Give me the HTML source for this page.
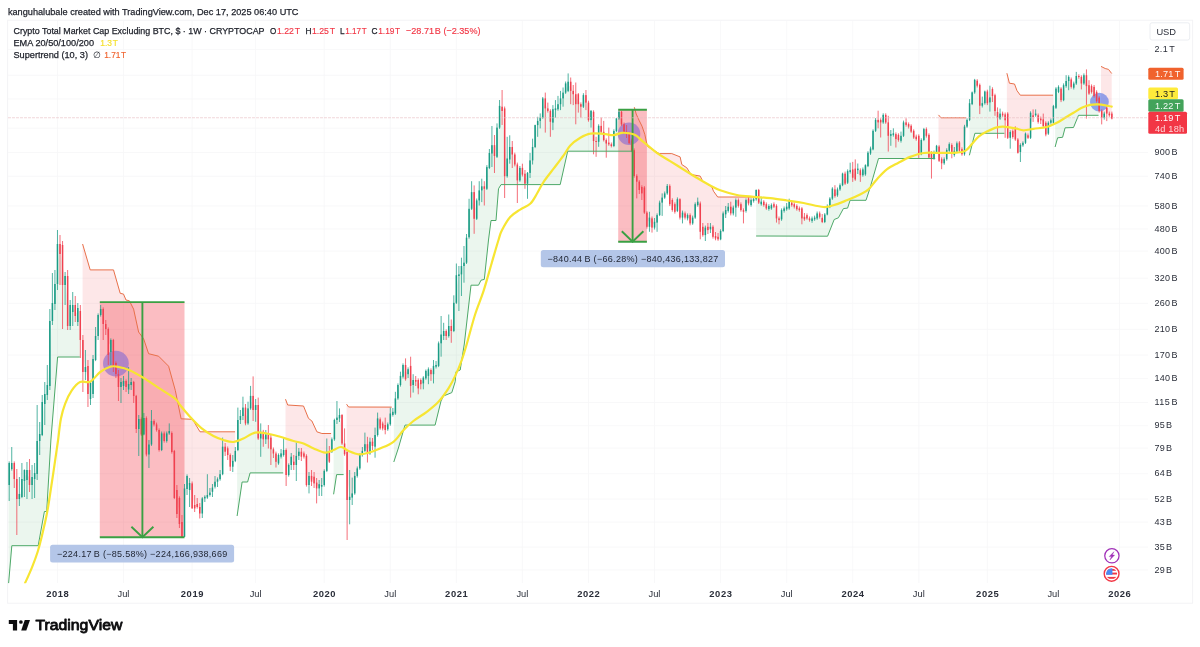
<!DOCTYPE html><html><head><meta charset="utf-8"><title>chart</title>
<style>html,body{margin:0;padding:0;background:#fff;}body{width:1200px;height:647px;overflow:hidden;font-family:"Liberation Sans",sans-serif;}svg{display:block;will-change:transform;}text{font-family:"Liberation Sans",sans-serif;}</style></head><body>
<svg width="1200" height="647" viewBox="0 0 1200 647">
<rect width="1200" height="647" fill="#ffffff"/>
<defs><clipPath id="plot"><rect x="8" y="20.5" width="1140" height="562.8"/></clipPath></defs>
<rect x="7.6" y="20.2" width="1185" height="583" fill="none" stroke="#f3f3f5" stroke-width="1"/>
<line x1="57.5" y1="20.5" x2="57.5" y2="583" stroke="#f6f6f8" stroke-width="0.8"/>
<line x1="123.5" y1="20.5" x2="123.5" y2="583" stroke="#f6f6f8" stroke-width="0.8"/>
<line x1="192.1" y1="20.5" x2="192.1" y2="583" stroke="#f6f6f8" stroke-width="0.8"/>
<line x1="255.6" y1="20.5" x2="255.6" y2="583" stroke="#f6f6f8" stroke-width="0.8"/>
<line x1="324.2" y1="20.5" x2="324.2" y2="583" stroke="#f6f6f8" stroke-width="0.8"/>
<line x1="390.3" y1="20.5" x2="390.3" y2="583" stroke="#f6f6f8" stroke-width="0.8"/>
<line x1="456.4" y1="20.5" x2="456.4" y2="583" stroke="#f6f6f8" stroke-width="0.8"/>
<line x1="522.4" y1="20.5" x2="522.4" y2="583" stroke="#f6f6f8" stroke-width="0.8"/>
<line x1="588.5" y1="20.5" x2="588.5" y2="583" stroke="#f6f6f8" stroke-width="0.8"/>
<line x1="654.5" y1="20.5" x2="654.5" y2="583" stroke="#f6f6f8" stroke-width="0.8"/>
<line x1="720.6" y1="20.5" x2="720.6" y2="583" stroke="#f6f6f8" stroke-width="0.8"/>
<line x1="786.7" y1="20.5" x2="786.7" y2="583" stroke="#f6f6f8" stroke-width="0.8"/>
<line x1="852.7" y1="20.5" x2="852.7" y2="583" stroke="#f6f6f8" stroke-width="0.8"/>
<line x1="918.8" y1="20.5" x2="918.8" y2="583" stroke="#f6f6f8" stroke-width="0.8"/>
<line x1="987.4" y1="20.5" x2="987.4" y2="583" stroke="#f6f6f8" stroke-width="0.8"/>
<line x1="1053.4" y1="20.5" x2="1053.4" y2="583" stroke="#f6f6f8" stroke-width="0.8"/>
<line x1="1119.5" y1="20.5" x2="1119.5" y2="583" stroke="#f6f6f8" stroke-width="0.8"/>
<line x1="8" y1="49.6" x2="1148" y2="49.6" stroke="#f6f6f8" stroke-width="0.8"/>
<line x1="8" y1="152.5" x2="1148" y2="152.5" stroke="#f6f6f8" stroke-width="0.8"/>
<line x1="8" y1="176.3" x2="1148" y2="176.3" stroke="#f6f6f8" stroke-width="0.8"/>
<line x1="8" y1="205.9" x2="1148" y2="205.9" stroke="#f6f6f8" stroke-width="0.8"/>
<line x1="8" y1="228.9" x2="1148" y2="228.9" stroke="#f6f6f8" stroke-width="0.8"/>
<line x1="8" y1="251.1" x2="1148" y2="251.1" stroke="#f6f6f8" stroke-width="0.8"/>
<line x1="8" y1="278.2" x2="1148" y2="278.2" stroke="#f6f6f8" stroke-width="0.8"/>
<line x1="8" y1="303.4" x2="1148" y2="303.4" stroke="#f6f6f8" stroke-width="0.8"/>
<line x1="8" y1="329.4" x2="1148" y2="329.4" stroke="#f6f6f8" stroke-width="0.8"/>
<line x1="8" y1="355.0" x2="1148" y2="355.0" stroke="#f6f6f8" stroke-width="0.8"/>
<line x1="8" y1="378.6" x2="1148" y2="378.6" stroke="#f6f6f8" stroke-width="0.8"/>
<line x1="8" y1="402.5" x2="1148" y2="402.5" stroke="#f6f6f8" stroke-width="0.8"/>
<line x1="8" y1="425.7" x2="1148" y2="425.7" stroke="#f6f6f8" stroke-width="0.8"/>
<line x1="8" y1="448.1" x2="1148" y2="448.1" stroke="#f6f6f8" stroke-width="0.8"/>
<line x1="8" y1="473.7" x2="1148" y2="473.7" stroke="#f6f6f8" stroke-width="0.8"/>
<line x1="8" y1="499.0" x2="1148" y2="499.0" stroke="#f6f6f8" stroke-width="0.8"/>
<line x1="8" y1="522.1" x2="1148" y2="522.1" stroke="#f6f6f8" stroke-width="0.8"/>
<line x1="8" y1="547.1" x2="1148" y2="547.1" stroke="#f6f6f8" stroke-width="0.8"/>
<line x1="8" y1="569.9" x2="1148" y2="569.9" stroke="#f6f6f8" stroke-width="0.8"/>
<line x1="8" y1="75.3" x2="1148" y2="75.3" stroke="#f6f6f8" stroke-width="0.8"/>
<line x1="8" y1="98.9" x2="1148" y2="98.9" stroke="#f6f6f8" stroke-width="0.8"/>
<line x1="8" y1="128.2" x2="1148" y2="128.2" stroke="#f6f6f8" stroke-width="0.8"/>
<g clip-path="url(#plot)">
<polygon points="8.6,583.3 11.8,545.7 38.2,545.7 44.4,511.5 46.7,511.5 50.9,440.0 57.6,357.0 79.8,357.0 79.8,323.3 77.8,315.0 75.3,310.5 72.7,308.5 70.2,315.5 67.6,301.0 65.1,280.5 62.6,265.0 60.0,249.0 57.5,264.0 54.9,294.0 52.4,312.0 49.9,353.5 47.3,390.0 44.8,399.0 42.2,418.5 39.7,437.5 37.1,457.5 34.6,476.0 32.1,481.0 29.5,477.5 27.0,475.0 24.4,475.5 21.9,488.0 19.4,496.5 16.8,489.0 14.3,471.0 11.7,466.0 9.2,474.0 8.6,475.9" fill="#2e9e4f" fill-opacity="0.095"/>
<polygon points="237.1,516.0 242.1,482.0 247.6,482.0 250.1,472.9 283.2,472.9 283.2,452.9 281.1,455.0 278.5,459.2 276.0,457.6 273.4,451.4 270.9,443.5 268.4,436.8 265.8,436.8 263.3,435.6 260.7,435.1 258.2,421.8 255.6,407.5 253.1,402.9 250.6,402.1 248.0,415.9 245.5,415.5 242.9,411.8 240.4,418.0 237.9,435.0 237.1,441.3" fill="#2e9e4f" fill-opacity="0.095"/>
<polygon points="333.6,494.3 336.6,474.6 343.6,474.6 343.6,441.4 342.0,429.2 339.5,416.7 337.0,418.8 334.4,429.6 333.6,434.7" fill="#2e9e4f" fill-opacity="0.095"/>
<polygon points="393.8,462.0 398.4,448.0 405.0,425.1 435.1,425.1 441.0,401.0 443.5,396.0 451.8,392.6 455.2,381.7 456.0,371.7 460.2,370.0 464.3,344.0 471.0,285.2 478.5,285.2 481.0,280.2 484.3,279.4 488.5,240.0 491.0,220.5 496.0,220.5 498.5,188.8 501.0,184.6 560.2,184.6 567.7,151.2 632.0,151.2 632.0,148.0 631.7,145.8 629.1,138.2 626.6,132.7 624.0,128.1 621.5,118.0 619.0,115.1 616.4,124.7 613.9,138.5 611.3,145.2 608.8,143.4 606.3,141.8 603.7,135.9 601.2,128.9 598.6,133.9 596.1,141.4 593.6,126.4 591.0,115.5 588.5,111.3 585.9,98.8 583.4,100.9 580.9,105.5 578.3,99.2 575.8,99.2 573.2,92.6 570.7,86.3 568.2,86.3 565.6,88.0 563.1,95.5 560.5,101.3 558.0,106.7 555.5,109.2 552.9,115.9 550.4,116.3 547.8,109.7 545.3,103.4 542.7,108.0 540.2,119.2 537.7,123.0 535.1,136.1 532.6,153.7 530.0,166.7 527.5,178.3 525.0,178.7 522.4,171.2 519.9,174.2 517.3,172.4 514.8,159.5 512.3,150.8 509.7,153.2 507.2,167.3 504.6,142.3 502.1,108.8 499.6,116.8 497.0,142.2 494.5,150.6 491.9,149.3 489.4,160.5 486.9,177.9 484.3,187.6 481.8,188.4 479.2,195.4 476.7,209.6 474.1,205.4 471.6,200.4 469.1,223.0 466.5,250.2 464.0,264.4 461.4,270.2 458.9,275.2 456.4,289.0 453.8,316.9 451.3,328.5 448.7,331.0 446.2,333.5 443.7,333.5 441.1,338.9 438.6,354.6 436.0,365.9 433.5,370.0 431.0,372.1 428.4,372.5 425.9,374.6 423.3,380.5 420.8,382.1 418.3,384.2 415.7,380.9 413.2,382.5 410.6,375.9 408.1,371.7 405.5,372.1 403.0,370.9 400.5,380.4 397.9,391.7 395.4,405.9 393.8,410.6" fill="#2e9e4f" fill-opacity="0.095"/>
<polygon points="756.1,236.0 827.6,236.2 834.2,219.5 838.4,217.8 843.4,208.6 847.6,208.1 850.1,200.3 866.0,200.3 870.1,187.8 878.5,158.5 935.2,158.5 935.2,152.5 934.0,155.4 931.5,155.8 928.9,146.2 926.4,132.4 923.9,134.6 921.3,147.1 918.8,145.0 916.2,137.8 913.7,134.2 911.1,128.7 908.6,125.3 906.1,123.7 903.5,129.1 901.0,138.3 898.4,137.4 895.9,136.6 893.4,134.1 890.8,134.9 888.3,129.1 885.7,118.7 883.2,118.7 880.7,121.2 878.1,121.2 875.6,125.4 873.0,140.1 870.5,151.0 868.0,159.4 865.4,169.8 862.9,172.3 860.3,172.7 857.8,169.4 855.3,174.0 852.7,173.6 850.2,171.1 847.6,176.9 845.1,178.6 842.5,179.4 840.0,187.3 837.5,192.4 834.9,192.8 832.4,193.6 829.8,202.8 827.3,210.3 824.8,218.2 822.2,219.9 819.7,215.1 817.1,215.9 814.6,218.4 812.1,219.7 809.5,219.2 807.0,216.8 804.4,218.1 801.9,213.4 799.4,209.2 796.8,207.6 794.3,205.4 791.7,203.8 789.2,204.2 786.7,207.9 784.1,209.7 781.6,214.7 779.0,219.2 776.5,212.2 774.0,205.4 771.4,206.8 768.9,207.5 766.3,206.3 763.8,203.4 761.2,202.9 758.7,196.3 756.2,194.6 756.1,194.7" fill="#2e9e4f" fill-opacity="0.095"/>
<polygon points="969.4,155.3 974.9,133.3 1004.4,133.3 1004.4,116.5 1002.6,114.4 1000.1,116.1 997.5,114.9 995.0,103.2 992.5,92.5 989.9,99.9 987.4,97.3 984.8,97.3 982.3,104.5 979.7,95.3 977.2,83.2 974.7,86.2 972.1,98.2 969.6,111.6 969.4,112.4" fill="#2e9e4f" fill-opacity="0.095"/>
<polygon points="1055.1,147.0 1057.6,137.8 1062.6,137.3 1065.1,127.8 1073.5,127.5 1078.5,115.3 1098.5,115.3 1098.5,102.3 1096.6,96.5 1094.1,91.5 1091.5,89.0 1089.0,89.4 1086.5,80.7 1083.9,79.3 1081.4,80.2 1078.8,76.5 1076.3,79.8 1073.8,85.6 1071.2,83.2 1068.7,79.0 1066.1,83.5 1063.6,92.7 1061.0,94.4 1058.5,89.4 1056.0,98.2 1055.1,103.8" fill="#2e9e4f" fill-opacity="0.095"/>
<polygon points="82.6,244.0 90.2,269.9 113.5,269.9 120.2,293.3 123.5,294.1 126.0,300.0 129.4,300.8 133.6,309.1 138.6,332.0 143.6,338.7 148.6,353.7 158.6,356.2 168.6,366.2 175.3,390.4 181.1,418.8 192.5,419.3 200.0,431.8 235.1,431.8 235.1,456.6 232.8,463.8 230.2,460.9 227.7,451.6 225.2,449.2 222.6,460.4 220.1,476.7 217.5,480.4 215.0,484.2 212.5,489.7 209.9,493.8 207.4,496.3 204.8,497.6 202.3,505.9 199.8,510.2 197.2,505.5 194.7,506.7 192.1,495.9 189.6,486.5 187.0,482.5 184.5,512.6 182.0,529.5 179.4,511.0 176.9,502.0 174.3,474.5 171.8,442.5 169.3,432.2 166.7,437.2 164.2,437.2 161.6,441.7 159.1,440.0 156.6,427.2 154.0,422.8 151.5,432.8 148.9,449.5 146.4,436.2 143.9,426.2 141.3,426.8 138.8,424.0 136.2,412.5 133.7,389.0 131.2,383.5 128.6,386.8 126.1,384.0 123.5,383.5 121.0,384.5 118.5,380.5 115.9,368.5 113.4,353.5 110.8,346.0 108.3,342.0 105.7,326.5 103.2,316.5 100.7,312.0 98.1,325.5 95.6,348.0 93.0,376.5 90.5,391.0 88.0,380.0 85.4,369.5 82.9,356.0 82.6,352.6" fill="#f23645" fill-opacity="0.12"/>
<polygon points="285.5,399.2 287.7,405.0 303.5,406.0 308.5,418.4 311.9,421.0 316.9,431.8 321.9,433.5 331.1,433.5 331.1,448.8 329.3,456.4 326.8,461.3 324.2,477.9 321.7,485.9 319.2,486.3 316.6,485.5 314.1,480.0 311.5,478.8 309.0,480.4 306.5,470.4 303.9,455.0 301.4,454.2 298.8,453.8 296.3,460.4 293.8,463.4 291.2,460.9 288.7,470.0 286.1,462.5 285.5,460.0" fill="#f23645" fill-opacity="0.12"/>
<polygon points="346.6,404.2 348.6,407.0 391.7,407.1 391.7,415.9 390.3,418.9 387.8,426.8 385.2,427.5 382.7,426.0 380.1,423.9 377.6,426.7 375.1,440.9 372.5,443.9 370.0,447.5 367.4,448.8 364.9,447.5 362.4,452.9 359.8,461.7 357.3,472.1 354.7,484.6 352.2,495.5 349.7,498.4 347.1,476.0 346.6,470.5" fill="#f23645" fill-opacity="0.12"/>
<polygon points="634.3,107.2 636.2,114.0 639.0,120.2 642.0,126.2 644.8,134.3 646.2,141.0 647.6,146.5 659.3,153.6 671.8,153.6 680.1,156.9 681.8,164.5 686.8,167.8 691.0,174.5 700.2,176.1 702.7,181.1 706.8,183.6 711.9,187.0 713.5,191.2 717.7,197.0 755.0,197.0 755.0,197.1 753.6,200.1 751.1,202.6 748.5,200.9 746.0,205.5 743.5,210.9 740.9,207.1 738.4,203.0 735.8,203.8 733.3,210.5 730.8,210.1 728.2,208.8 725.7,212.2 723.1,222.2 720.6,235.2 718.1,238.1 715.5,237.2 713.0,231.8 710.4,228.1 707.9,228.4 705.4,231.3 702.8,230.9 700.3,217.6 697.7,203.4 695.2,210.9 692.6,220.5 690.1,219.2 687.6,216.8 685.0,215.5 682.5,215.1 679.9,208.4 677.4,205.1 674.9,208.0 672.3,205.0 669.8,195.1 667.2,189.7 664.7,195.5 662.2,200.1 659.6,208.8 657.1,218.8 654.5,224.7 652.0,223.0 649.5,222.2 646.9,219.7 644.4,200.1 641.8,190.2 639.3,185.8 636.8,178.8 634.3,163.6" fill="#f23645" fill-opacity="0.12"/>
<polygon points="938.5,114.9 941.0,117.8 966.0,117.8 966.0,130.3 964.5,140.4 962.0,151.6 959.4,146.7 956.9,147.4 954.3,152.9 951.8,148.8 949.3,147.4 946.7,154.6 944.2,161.2 941.6,161.2 939.1,153.7 938.5,152.6" fill="#f23645" fill-opacity="0.12"/>
<polygon points="1006.9,73.2 1009.4,83.2 1014.5,84.0 1017.0,90.7 1020.3,95.2 1053.1,95.2 1053.1,115.4 1050.9,121.5 1048.3,128.2 1045.8,128.7 1043.3,122.8 1040.7,119.4 1038.2,118.6 1035.6,114.4 1033.1,116.2 1030.6,125.3 1028.0,136.6 1025.5,138.2 1022.9,144.1 1020.4,148.5 1017.9,146.2 1015.3,133.7 1012.8,134.1 1010.2,134.9 1007.7,125.7 1006.9,123.1" fill="#f23645" fill-opacity="0.12"/>
<polygon points="1101.0,66.4 1105.2,68.5 1108.5,69.4 1111.7,73.5 1111.7,116.0 1109.3,114.4 1106.8,110.7 1104.2,115.7 1101.7,114.4 1101.0,111.7" fill="#f23645" fill-opacity="0.12"/>
<rect x="99.8" y="302.1" width="84.7" height="235.1" fill="#f23645" fill-opacity="0.33"/>
<rect x="618.2" y="109.8" width="28.7" height="132.0" fill="#f23645" fill-opacity="0.33"/>
<circle cx="115.9" cy="363.6" r="12.9" fill="#9575cd" fill-opacity="0.72"/>
<circle cx="629" cy="133.8" r="11.3" fill="#9575cd" fill-opacity="0.72"/>
<circle cx="1099.4" cy="102.1" r="9.4" fill="#5a78e6" fill-opacity="0.65"/>
<line x1="9.20" y1="461.4" x2="9.20" y2="501.0" stroke="#1a9c85" stroke-width="0.9" stroke-opacity="0.85"/>
<rect x="8.45" y="463.0" width="1.5" height="22.0" fill="#1a9c85"/>
<line x1="11.74" y1="447.0" x2="11.74" y2="470.6" stroke="#1a9c85" stroke-width="0.9" stroke-opacity="0.85"/>
<rect x="10.99" y="463.0" width="1.5" height="6.0" fill="#1a9c85"/>
<line x1="14.28" y1="461.4" x2="14.28" y2="488.0" stroke="#f0404f" stroke-width="0.9" stroke-opacity="0.85"/>
<rect x="13.53" y="463.0" width="1.5" height="16.0" fill="#f0404f"/>
<line x1="16.82" y1="469.0" x2="16.82" y2="535.0" stroke="#f0404f" stroke-width="0.9" stroke-opacity="0.85"/>
<rect x="16.07" y="479.0" width="1.5" height="20.0" fill="#f0404f"/>
<line x1="19.36" y1="477.0" x2="19.36" y2="506.0" stroke="#1a9c85" stroke-width="0.9" stroke-opacity="0.85"/>
<rect x="18.61" y="494.0" width="1.5" height="5.0" fill="#1a9c85"/>
<line x1="21.90" y1="463.0" x2="21.90" y2="498.1" stroke="#1a9c85" stroke-width="0.9" stroke-opacity="0.85"/>
<rect x="21.15" y="479.0" width="1.5" height="18.0" fill="#1a9c85"/>
<line x1="24.44" y1="469.4" x2="24.44" y2="497.0" stroke="#1a9c85" stroke-width="0.9" stroke-opacity="0.85"/>
<rect x="23.69" y="470.0" width="1.5" height="11.0" fill="#1a9c85"/>
<line x1="26.98" y1="462.0" x2="26.98" y2="499.0" stroke="#1a9c85" stroke-width="0.9" stroke-opacity="0.85"/>
<rect x="26.23" y="470.0" width="1.5" height="10.0" fill="#1a9c85"/>
<line x1="29.53" y1="459.0" x2="29.53" y2="492.0" stroke="#f0404f" stroke-width="0.9" stroke-opacity="0.85"/>
<rect x="28.78" y="470.0" width="1.5" height="15.0" fill="#f0404f"/>
<line x1="32.07" y1="465.0" x2="32.07" y2="499.0" stroke="#1a9c85" stroke-width="0.9" stroke-opacity="0.85"/>
<rect x="31.32" y="477.0" width="1.5" height="8.0" fill="#1a9c85"/>
<line x1="34.61" y1="463.0" x2="34.61" y2="498.0" stroke="#1a9c85" stroke-width="0.9" stroke-opacity="0.85"/>
<rect x="33.86" y="473.0" width="1.5" height="6.0" fill="#1a9c85"/>
<line x1="37.15" y1="405.0" x2="37.15" y2="480.0" stroke="#1a9c85" stroke-width="0.9" stroke-opacity="0.85"/>
<rect x="36.40" y="441.0" width="1.5" height="33.0" fill="#1a9c85"/>
<line x1="39.69" y1="422.0" x2="39.69" y2="455.0" stroke="#1a9c85" stroke-width="0.9" stroke-opacity="0.85"/>
<rect x="38.94" y="434.0" width="1.5" height="7.0" fill="#1a9c85"/>
<line x1="42.23" y1="395.0" x2="42.23" y2="436.1" stroke="#1a9c85" stroke-width="0.9" stroke-opacity="0.85"/>
<rect x="41.48" y="402.0" width="1.5" height="33.0" fill="#1a9c85"/>
<line x1="44.77" y1="382.0" x2="44.77" y2="425.0" stroke="#1a9c85" stroke-width="0.9" stroke-opacity="0.85"/>
<rect x="44.02" y="394.0" width="1.5" height="10.0" fill="#1a9c85"/>
<line x1="47.31" y1="365.0" x2="47.31" y2="400.0" stroke="#1a9c85" stroke-width="0.9" stroke-opacity="0.85"/>
<rect x="46.56" y="385.0" width="1.5" height="10.0" fill="#1a9c85"/>
<line x1="49.85" y1="309.0" x2="49.85" y2="390.0" stroke="#1a9c85" stroke-width="0.9" stroke-opacity="0.85"/>
<rect x="49.10" y="321.0" width="1.5" height="65.0" fill="#1a9c85"/>
<line x1="52.39" y1="273.0" x2="52.39" y2="325.0" stroke="#1a9c85" stroke-width="0.9" stroke-opacity="0.85"/>
<rect x="51.64" y="303.0" width="1.5" height="18.0" fill="#1a9c85"/>
<line x1="54.93" y1="270.0" x2="54.93" y2="310.0" stroke="#1a9c85" stroke-width="0.9" stroke-opacity="0.85"/>
<rect x="54.18" y="284.0" width="1.5" height="20.0" fill="#1a9c85"/>
<line x1="57.47" y1="230.0" x2="57.47" y2="290.0" stroke="#1a9c85" stroke-width="0.9" stroke-opacity="0.85"/>
<rect x="56.72" y="244.0" width="1.5" height="40.0" fill="#1a9c85"/>
<line x1="60.01" y1="235.0" x2="60.01" y2="285.0" stroke="#f0404f" stroke-width="0.9" stroke-opacity="0.85"/>
<rect x="59.26" y="244.0" width="1.5" height="10.0" fill="#f0404f"/>
<line x1="62.55" y1="241.0" x2="62.55" y2="329.0" stroke="#f0404f" stroke-width="0.9" stroke-opacity="0.85"/>
<rect x="61.80" y="245.0" width="1.5" height="40.0" fill="#f0404f"/>
<line x1="65.10" y1="272.0" x2="65.10" y2="305.0" stroke="#1a9c85" stroke-width="0.9" stroke-opacity="0.85"/>
<rect x="64.35" y="276.0" width="1.5" height="9.0" fill="#1a9c85"/>
<line x1="67.64" y1="270.0" x2="67.64" y2="330.0" stroke="#f0404f" stroke-width="0.9" stroke-opacity="0.85"/>
<rect x="66.89" y="276.0" width="1.5" height="50.0" fill="#f0404f"/>
<line x1="70.18" y1="300.0" x2="70.18" y2="330.0" stroke="#1a9c85" stroke-width="0.9" stroke-opacity="0.85"/>
<rect x="69.43" y="305.0" width="1.5" height="21.0" fill="#1a9c85"/>
<line x1="72.72" y1="292.0" x2="72.72" y2="326.0" stroke="#1a9c85" stroke-width="0.9" stroke-opacity="0.85"/>
<rect x="71.97" y="305.0" width="1.5" height="7.0" fill="#1a9c85"/>
<line x1="75.26" y1="296.0" x2="75.26" y2="322.0" stroke="#f0404f" stroke-width="0.9" stroke-opacity="0.85"/>
<rect x="74.51" y="305.0" width="1.5" height="11.0" fill="#f0404f"/>
<line x1="77.80" y1="303.0" x2="77.80" y2="326.0" stroke="#1a9c85" stroke-width="0.9" stroke-opacity="0.85"/>
<rect x="77.05" y="308.0" width="1.5" height="14.0" fill="#1a9c85"/>
<line x1="80.34" y1="305.0" x2="80.34" y2="358.0" stroke="#f0404f" stroke-width="0.9" stroke-opacity="0.85"/>
<rect x="79.59" y="311.0" width="1.5" height="29.0" fill="#f0404f"/>
<line x1="82.88" y1="335.0" x2="82.88" y2="392.0" stroke="#f0404f" stroke-width="0.9" stroke-opacity="0.85"/>
<rect x="82.13" y="340.0" width="1.5" height="32.0" fill="#f0404f"/>
<line x1="85.42" y1="350.0" x2="85.42" y2="380.0" stroke="#1a9c85" stroke-width="0.9" stroke-opacity="0.85"/>
<rect x="84.67" y="367.0" width="1.5" height="5.0" fill="#1a9c85"/>
<line x1="87.96" y1="360.0" x2="87.96" y2="407.0" stroke="#f0404f" stroke-width="0.9" stroke-opacity="0.85"/>
<rect x="87.21" y="366.0" width="1.5" height="28.0" fill="#f0404f"/>
<line x1="90.50" y1="381.4" x2="90.50" y2="405.0" stroke="#1a9c85" stroke-width="0.9" stroke-opacity="0.85"/>
<rect x="89.75" y="383.0" width="1.5" height="16.0" fill="#1a9c85"/>
<line x1="93.04" y1="355.0" x2="93.04" y2="398.0" stroke="#1a9c85" stroke-width="0.9" stroke-opacity="0.85"/>
<rect x="92.29" y="359.0" width="1.5" height="35.0" fill="#1a9c85"/>
<line x1="95.58" y1="327.0" x2="95.58" y2="361.1" stroke="#1a9c85" stroke-width="0.9" stroke-opacity="0.85"/>
<rect x="94.83" y="336.0" width="1.5" height="24.0" fill="#1a9c85"/>
<line x1="98.12" y1="313.4" x2="98.12" y2="340.0" stroke="#1a9c85" stroke-width="0.9" stroke-opacity="0.85"/>
<rect x="97.37" y="315.0" width="1.5" height="21.0" fill="#1a9c85"/>
<line x1="100.67" y1="305.0" x2="100.67" y2="316.6" stroke="#1a9c85" stroke-width="0.9" stroke-opacity="0.85"/>
<rect x="99.92" y="309.0" width="1.5" height="6.0" fill="#1a9c85"/>
<line x1="103.21" y1="307.4" x2="103.21" y2="340.0" stroke="#f0404f" stroke-width="0.9" stroke-opacity="0.85"/>
<rect x="102.46" y="309.0" width="1.5" height="15.0" fill="#f0404f"/>
<line x1="105.75" y1="320.0" x2="105.75" y2="335.0" stroke="#f0404f" stroke-width="0.9" stroke-opacity="0.85"/>
<rect x="105.00" y="324.0" width="1.5" height="5.0" fill="#f0404f"/>
<line x1="108.29" y1="327.4" x2="108.29" y2="365.0" stroke="#f0404f" stroke-width="0.9" stroke-opacity="0.85"/>
<rect x="107.54" y="329.0" width="1.5" height="26.0" fill="#f0404f"/>
<line x1="110.83" y1="338.4" x2="110.83" y2="365.0" stroke="#1a9c85" stroke-width="0.9" stroke-opacity="0.85"/>
<rect x="110.08" y="340.0" width="1.5" height="12.0" fill="#1a9c85"/>
<line x1="113.37" y1="338.9" x2="113.37" y2="372.0" stroke="#f0404f" stroke-width="0.9" stroke-opacity="0.85"/>
<rect x="112.62" y="340.0" width="1.5" height="27.0" fill="#f0404f"/>
<line x1="115.91" y1="361.4" x2="115.91" y2="378.0" stroke="#f0404f" stroke-width="0.9" stroke-opacity="0.85"/>
<rect x="115.16" y="363.0" width="1.5" height="11.0" fill="#f0404f"/>
<line x1="118.45" y1="370.0" x2="118.45" y2="401.0" stroke="#f0404f" stroke-width="0.9" stroke-opacity="0.85"/>
<rect x="117.70" y="374.0" width="1.5" height="13.0" fill="#f0404f"/>
<line x1="120.99" y1="378.0" x2="120.99" y2="403.0" stroke="#1a9c85" stroke-width="0.9" stroke-opacity="0.85"/>
<rect x="120.24" y="382.0" width="1.5" height="5.0" fill="#1a9c85"/>
<line x1="123.53" y1="376.0" x2="123.53" y2="390.0" stroke="#1a9c85" stroke-width="0.9" stroke-opacity="0.85"/>
<rect x="122.78" y="381.0" width="1.5" height="5.0" fill="#1a9c85"/>
<line x1="126.07" y1="379.4" x2="126.07" y2="392.0" stroke="#f0404f" stroke-width="0.9" stroke-opacity="0.85"/>
<rect x="125.32" y="381.0" width="1.5" height="6.0" fill="#f0404f"/>
<line x1="128.61" y1="367.0" x2="128.61" y2="394.0" stroke="#1a9c85" stroke-width="0.9" stroke-opacity="0.85"/>
<rect x="127.86" y="384.0" width="1.5" height="5.5" fill="#1a9c85"/>
<line x1="131.15" y1="378.0" x2="131.15" y2="390.0" stroke="#1a9c85" stroke-width="0.9" stroke-opacity="0.85"/>
<rect x="130.40" y="382.0" width="1.5" height="3.0" fill="#1a9c85"/>
<line x1="133.69" y1="380.9" x2="133.69" y2="403.0" stroke="#f0404f" stroke-width="0.9" stroke-opacity="0.85"/>
<rect x="132.94" y="382.0" width="1.5" height="14.0" fill="#f0404f"/>
<line x1="136.24" y1="394.9" x2="136.24" y2="433.0" stroke="#f0404f" stroke-width="0.9" stroke-opacity="0.85"/>
<rect x="135.49" y="396.0" width="1.5" height="33.0" fill="#f0404f"/>
<line x1="138.78" y1="415.0" x2="138.78" y2="456.0" stroke="#1a9c85" stroke-width="0.9" stroke-opacity="0.85"/>
<rect x="138.03" y="419.0" width="1.5" height="10.0" fill="#1a9c85"/>
<line x1="141.32" y1="417.4" x2="141.32" y2="435.9" stroke="#f0404f" stroke-width="0.9" stroke-opacity="0.85"/>
<rect x="140.57" y="419.0" width="1.5" height="15.5" fill="#f0404f"/>
<line x1="143.86" y1="413.0" x2="143.86" y2="435.3" stroke="#1a9c85" stroke-width="0.9" stroke-opacity="0.85"/>
<rect x="143.11" y="418.0" width="1.5" height="16.5" fill="#1a9c85"/>
<line x1="146.40" y1="416.4" x2="146.40" y2="456.4" stroke="#f0404f" stroke-width="0.9" stroke-opacity="0.85"/>
<rect x="145.65" y="418.0" width="1.5" height="36.5" fill="#f0404f"/>
<line x1="148.94" y1="440.0" x2="148.94" y2="468.0" stroke="#1a9c85" stroke-width="0.9" stroke-opacity="0.85"/>
<rect x="148.19" y="444.5" width="1.5" height="10.0" fill="#1a9c85"/>
<line x1="151.48" y1="410.0" x2="151.48" y2="445.9" stroke="#1a9c85" stroke-width="0.9" stroke-opacity="0.85"/>
<rect x="150.73" y="421.0" width="1.5" height="23.5" fill="#1a9c85"/>
<line x1="154.02" y1="419.4" x2="154.02" y2="426.4" stroke="#f0404f" stroke-width="0.9" stroke-opacity="0.85"/>
<rect x="153.27" y="421.0" width="1.5" height="3.5" fill="#f0404f"/>
<line x1="156.56" y1="422.6" x2="156.56" y2="431.6" stroke="#f0404f" stroke-width="0.9" stroke-opacity="0.85"/>
<rect x="155.81" y="424.5" width="1.5" height="5.5" fill="#f0404f"/>
<line x1="159.10" y1="428.4" x2="159.10" y2="451.6" stroke="#f0404f" stroke-width="0.9" stroke-opacity="0.85"/>
<rect x="158.35" y="430.0" width="1.5" height="20.0" fill="#f0404f"/>
<line x1="161.64" y1="431.5" x2="161.64" y2="451.1" stroke="#1a9c85" stroke-width="0.9" stroke-opacity="0.85"/>
<rect x="160.89" y="433.4" width="1.5" height="16.6" fill="#1a9c85"/>
<line x1="164.18" y1="431.5" x2="164.18" y2="442.6" stroke="#f0404f" stroke-width="0.9" stroke-opacity="0.85"/>
<rect x="163.43" y="433.4" width="1.5" height="7.6" fill="#f0404f"/>
<line x1="166.72" y1="431.5" x2="166.72" y2="442.6" stroke="#1a9c85" stroke-width="0.9" stroke-opacity="0.85"/>
<rect x="165.97" y="433.4" width="1.5" height="7.6" fill="#1a9c85"/>
<line x1="169.26" y1="423.4" x2="169.26" y2="434.8" stroke="#1a9c85" stroke-width="0.9" stroke-opacity="0.85"/>
<rect x="168.51" y="431.0" width="1.5" height="2.4" fill="#1a9c85"/>
<line x1="171.80" y1="431.4" x2="171.80" y2="453.6" stroke="#f0404f" stroke-width="0.9" stroke-opacity="0.85"/>
<rect x="171.05" y="433.0" width="1.5" height="19.0" fill="#f0404f"/>
<line x1="174.35" y1="449.9" x2="174.35" y2="499.1" stroke="#f0404f" stroke-width="0.9" stroke-opacity="0.85"/>
<rect x="173.60" y="451.0" width="1.5" height="47.0" fill="#f0404f"/>
<line x1="176.89" y1="485.0" x2="176.89" y2="518.0" stroke="#f0404f" stroke-width="0.9" stroke-opacity="0.85"/>
<rect x="176.14" y="490.0" width="1.5" height="24.0" fill="#f0404f"/>
<line x1="179.43" y1="496.4" x2="179.43" y2="528.0" stroke="#f0404f" stroke-width="0.9" stroke-opacity="0.85"/>
<rect x="178.68" y="498.0" width="1.5" height="26.0" fill="#f0404f"/>
<line x1="181.97" y1="515.0" x2="181.97" y2="538.1" stroke="#f0404f" stroke-width="0.9" stroke-opacity="0.85"/>
<rect x="181.22" y="522.0" width="1.5" height="15.0" fill="#f0404f"/>
<line x1="184.51" y1="484.0" x2="184.51" y2="536.9" stroke="#1a9c85" stroke-width="0.9" stroke-opacity="0.85"/>
<rect x="183.76" y="488.5" width="1.5" height="48.3" fill="#1a9c85"/>
<line x1="187.05" y1="474.4" x2="187.05" y2="495.0" stroke="#1a9c85" stroke-width="0.9" stroke-opacity="0.85"/>
<rect x="186.30" y="476.0" width="1.5" height="13.0" fill="#1a9c85"/>
<line x1="189.59" y1="478.0" x2="189.59" y2="507.0" stroke="#1a9c85" stroke-width="0.9" stroke-opacity="0.85"/>
<rect x="188.84" y="483.0" width="1.5" height="7.0" fill="#1a9c85"/>
<line x1="192.13" y1="481.5" x2="192.13" y2="508.7" stroke="#f0404f" stroke-width="0.9" stroke-opacity="0.85"/>
<rect x="191.38" y="483.4" width="1.5" height="25.0" fill="#f0404f"/>
<line x1="194.67" y1="495.0" x2="194.67" y2="512.0" stroke="#f0404f" stroke-width="0.9" stroke-opacity="0.85"/>
<rect x="193.92" y="505.0" width="1.5" height="3.4" fill="#f0404f"/>
<line x1="197.21" y1="498.0" x2="197.21" y2="508.6" stroke="#f0404f" stroke-width="0.9" stroke-opacity="0.85"/>
<rect x="196.46" y="504.0" width="1.5" height="3.0" fill="#f0404f"/>
<line x1="199.75" y1="503.0" x2="199.75" y2="518.5" stroke="#f0404f" stroke-width="0.9" stroke-opacity="0.85"/>
<rect x="199.00" y="507.0" width="1.5" height="6.5" fill="#f0404f"/>
<line x1="202.29" y1="497.1" x2="202.29" y2="518.0" stroke="#1a9c85" stroke-width="0.9" stroke-opacity="0.85"/>
<rect x="201.54" y="498.4" width="1.5" height="15.1" fill="#1a9c85"/>
<line x1="204.83" y1="495.3" x2="204.83" y2="502.0" stroke="#1a9c85" stroke-width="0.9" stroke-opacity="0.85"/>
<rect x="204.08" y="496.8" width="1.5" height="1.6" fill="#1a9c85"/>
<line x1="207.37" y1="474.2" x2="207.37" y2="498.9" stroke="#1a9c85" stroke-width="0.9" stroke-opacity="0.85"/>
<rect x="206.62" y="495.0" width="1.5" height="2.6" fill="#1a9c85"/>
<line x1="209.92" y1="488.0" x2="209.92" y2="496.6" stroke="#1a9c85" stroke-width="0.9" stroke-opacity="0.85"/>
<rect x="209.17" y="492.6" width="1.5" height="2.4" fill="#1a9c85"/>
<line x1="212.46" y1="484.0" x2="212.46" y2="497.0" stroke="#1a9c85" stroke-width="0.9" stroke-opacity="0.85"/>
<rect x="211.71" y="487.6" width="1.5" height="4.2" fill="#1a9c85"/>
<line x1="215.00" y1="476.0" x2="215.00" y2="488.5" stroke="#1a9c85" stroke-width="0.9" stroke-opacity="0.85"/>
<rect x="214.25" y="481.7" width="1.5" height="5.0" fill="#1a9c85"/>
<line x1="217.54" y1="477.4" x2="217.54" y2="487.0" stroke="#1a9c85" stroke-width="0.9" stroke-opacity="0.85"/>
<rect x="216.79" y="479.2" width="1.5" height="2.5" fill="#1a9c85"/>
<line x1="220.08" y1="470.0" x2="220.08" y2="480.7" stroke="#1a9c85" stroke-width="0.9" stroke-opacity="0.85"/>
<rect x="219.33" y="474.2" width="1.5" height="5.0" fill="#1a9c85"/>
<line x1="222.62" y1="437.6" x2="222.62" y2="475.2" stroke="#1a9c85" stroke-width="0.9" stroke-opacity="0.85"/>
<rect x="221.87" y="446.7" width="1.5" height="27.5" fill="#1a9c85"/>
<line x1="225.16" y1="443.0" x2="225.16" y2="456.0" stroke="#f0404f" stroke-width="0.9" stroke-opacity="0.85"/>
<rect x="224.41" y="446.7" width="1.5" height="5.0" fill="#f0404f"/>
<line x1="227.70" y1="446.5" x2="227.70" y2="460.0" stroke="#f0404f" stroke-width="0.9" stroke-opacity="0.85"/>
<rect x="226.95" y="448.3" width="1.5" height="6.7" fill="#f0404f"/>
<line x1="230.24" y1="453.4" x2="230.24" y2="471.0" stroke="#f0404f" stroke-width="0.9" stroke-opacity="0.85"/>
<rect x="229.49" y="455.0" width="1.5" height="11.7" fill="#f0404f"/>
<line x1="232.78" y1="455.0" x2="232.78" y2="472.0" stroke="#1a9c85" stroke-width="0.9" stroke-opacity="0.85"/>
<rect x="232.03" y="460.9" width="1.5" height="5.8" fill="#1a9c85"/>
<line x1="235.32" y1="447.0" x2="235.32" y2="462.1" stroke="#1a9c85" stroke-width="0.9" stroke-opacity="0.85"/>
<rect x="234.57" y="450.9" width="1.5" height="10.0" fill="#1a9c85"/>
<line x1="237.86" y1="407.6" x2="237.86" y2="451.1" stroke="#1a9c85" stroke-width="0.9" stroke-opacity="0.85"/>
<rect x="237.11" y="420.0" width="1.5" height="30.0" fill="#1a9c85"/>
<line x1="240.40" y1="410.0" x2="240.40" y2="424.0" stroke="#1a9c85" stroke-width="0.9" stroke-opacity="0.85"/>
<rect x="239.65" y="416.0" width="1.5" height="4.0" fill="#1a9c85"/>
<line x1="242.94" y1="396.7" x2="242.94" y2="420.0" stroke="#1a9c85" stroke-width="0.9" stroke-opacity="0.85"/>
<rect x="242.19" y="407.6" width="1.5" height="8.4" fill="#1a9c85"/>
<line x1="245.49" y1="404.0" x2="245.49" y2="425.3" stroke="#f0404f" stroke-width="0.9" stroke-opacity="0.85"/>
<rect x="244.74" y="407.6" width="1.5" height="15.8" fill="#f0404f"/>
<line x1="248.03" y1="401.7" x2="248.03" y2="424.8" stroke="#1a9c85" stroke-width="0.9" stroke-opacity="0.85"/>
<rect x="247.28" y="408.4" width="1.5" height="15.0" fill="#1a9c85"/>
<line x1="250.57" y1="385.9" x2="250.57" y2="409.8" stroke="#1a9c85" stroke-width="0.9" stroke-opacity="0.85"/>
<rect x="249.82" y="395.9" width="1.5" height="12.5" fill="#1a9c85"/>
<line x1="253.11" y1="376.4" x2="253.11" y2="421.0" stroke="#f0404f" stroke-width="0.9" stroke-opacity="0.85"/>
<rect x="252.36" y="395.9" width="1.5" height="14.1" fill="#f0404f"/>
<line x1="255.65" y1="399.0" x2="255.65" y2="421.8" stroke="#1a9c85" stroke-width="0.9" stroke-opacity="0.85"/>
<rect x="254.90" y="405.0" width="1.5" height="5.0" fill="#1a9c85"/>
<line x1="258.19" y1="397.6" x2="258.19" y2="439.9" stroke="#f0404f" stroke-width="0.9" stroke-opacity="0.85"/>
<rect x="257.44" y="405.0" width="1.5" height="33.5" fill="#f0404f"/>
<line x1="260.73" y1="423.4" x2="260.73" y2="456.8" stroke="#1a9c85" stroke-width="0.9" stroke-opacity="0.85"/>
<rect x="259.98" y="431.8" width="1.5" height="6.7" fill="#1a9c85"/>
<line x1="263.27" y1="429.9" x2="263.27" y2="446.8" stroke="#f0404f" stroke-width="0.9" stroke-opacity="0.85"/>
<rect x="262.52" y="431.8" width="1.5" height="7.5" fill="#f0404f"/>
<line x1="265.81" y1="430.0" x2="265.81" y2="444.0" stroke="#1a9c85" stroke-width="0.9" stroke-opacity="0.85"/>
<rect x="265.06" y="434.3" width="1.5" height="5.0" fill="#1a9c85"/>
<line x1="268.35" y1="425.0" x2="268.35" y2="448.5" stroke="#f0404f" stroke-width="0.9" stroke-opacity="0.85"/>
<rect x="267.60" y="434.3" width="1.5" height="5.0" fill="#f0404f"/>
<line x1="270.89" y1="434.0" x2="270.89" y2="465.0" stroke="#f0404f" stroke-width="0.9" stroke-opacity="0.85"/>
<rect x="270.14" y="437.6" width="1.5" height="11.7" fill="#f0404f"/>
<line x1="273.43" y1="447.5" x2="273.43" y2="458.0" stroke="#f0404f" stroke-width="0.9" stroke-opacity="0.85"/>
<rect x="272.68" y="449.3" width="1.5" height="4.2" fill="#f0404f"/>
<line x1="275.97" y1="451.6" x2="275.97" y2="467.5" stroke="#f0404f" stroke-width="0.9" stroke-opacity="0.85"/>
<rect x="275.22" y="453.5" width="1.5" height="8.3" fill="#f0404f"/>
<line x1="278.51" y1="453.4" x2="278.51" y2="464.8" stroke="#1a9c85" stroke-width="0.9" stroke-opacity="0.85"/>
<rect x="277.76" y="455.0" width="1.5" height="8.4" fill="#1a9c85"/>
<line x1="281.05" y1="449.0" x2="281.05" y2="458.5" stroke="#1a9c85" stroke-width="0.9" stroke-opacity="0.85"/>
<rect x="280.30" y="453.4" width="1.5" height="3.3" fill="#1a9c85"/>
<line x1="283.60" y1="437.6" x2="283.60" y2="456.6" stroke="#1a9c85" stroke-width="0.9" stroke-opacity="0.85"/>
<rect x="282.85" y="450.0" width="1.5" height="5.0" fill="#1a9c85"/>
<line x1="286.14" y1="448.4" x2="286.14" y2="486.0" stroke="#f0404f" stroke-width="0.9" stroke-opacity="0.85"/>
<rect x="285.39" y="450.0" width="1.5" height="25.0" fill="#f0404f"/>
<line x1="288.68" y1="463.4" x2="288.68" y2="476.6" stroke="#1a9c85" stroke-width="0.9" stroke-opacity="0.85"/>
<rect x="287.93" y="465.0" width="1.5" height="10.0" fill="#1a9c85"/>
<line x1="291.22" y1="453.0" x2="291.22" y2="470.0" stroke="#1a9c85" stroke-width="0.9" stroke-opacity="0.85"/>
<rect x="290.47" y="456.7" width="1.5" height="8.3" fill="#1a9c85"/>
<line x1="293.76" y1="455.0" x2="293.76" y2="470.0" stroke="#f0404f" stroke-width="0.9" stroke-opacity="0.85"/>
<rect x="293.01" y="461.7" width="1.5" height="3.3" fill="#f0404f"/>
<line x1="296.30" y1="442.5" x2="296.30" y2="481.0" stroke="#1a9c85" stroke-width="0.9" stroke-opacity="0.85"/>
<rect x="295.55" y="455.9" width="1.5" height="9.1" fill="#1a9c85"/>
<line x1="298.84" y1="448.0" x2="298.84" y2="460.0" stroke="#1a9c85" stroke-width="0.9" stroke-opacity="0.85"/>
<rect x="298.09" y="451.7" width="1.5" height="4.2" fill="#1a9c85"/>
<line x1="301.38" y1="448.0" x2="301.38" y2="461.0" stroke="#f0404f" stroke-width="0.9" stroke-opacity="0.85"/>
<rect x="300.63" y="451.7" width="1.5" height="5.0" fill="#f0404f"/>
<line x1="303.92" y1="451.5" x2="303.92" y2="458.5" stroke="#f0404f" stroke-width="0.9" stroke-opacity="0.85"/>
<rect x="303.17" y="453.4" width="1.5" height="3.3" fill="#f0404f"/>
<line x1="306.46" y1="454.3" x2="306.46" y2="486.6" stroke="#f0404f" stroke-width="0.9" stroke-opacity="0.85"/>
<rect x="305.71" y="455.9" width="1.5" height="29.1" fill="#f0404f"/>
<line x1="309.00" y1="472.0" x2="309.00" y2="493.4" stroke="#1a9c85" stroke-width="0.9" stroke-opacity="0.85"/>
<rect x="308.25" y="475.9" width="1.5" height="9.1" fill="#1a9c85"/>
<line x1="311.54" y1="470.0" x2="311.54" y2="486.0" stroke="#f0404f" stroke-width="0.9" stroke-opacity="0.85"/>
<rect x="310.79" y="475.9" width="1.5" height="5.8" fill="#f0404f"/>
<line x1="314.08" y1="472.0" x2="314.08" y2="488.0" stroke="#f0404f" stroke-width="0.9" stroke-opacity="0.85"/>
<rect x="313.33" y="476.7" width="1.5" height="6.7" fill="#f0404f"/>
<line x1="316.62" y1="478.0" x2="316.62" y2="503.4" stroke="#f0404f" stroke-width="0.9" stroke-opacity="0.85"/>
<rect x="315.87" y="482.6" width="1.5" height="5.8" fill="#f0404f"/>
<line x1="319.17" y1="480.0" x2="319.17" y2="496.0" stroke="#1a9c85" stroke-width="0.9" stroke-opacity="0.85"/>
<rect x="318.42" y="484.2" width="1.5" height="4.2" fill="#1a9c85"/>
<line x1="321.71" y1="478.0" x2="321.71" y2="496.0" stroke="#1a9c85" stroke-width="0.9" stroke-opacity="0.85"/>
<rect x="320.96" y="485.0" width="1.5" height="1.7" fill="#1a9c85"/>
<line x1="324.25" y1="469.3" x2="324.25" y2="486.6" stroke="#1a9c85" stroke-width="0.9" stroke-opacity="0.85"/>
<rect x="323.50" y="470.9" width="1.5" height="14.1" fill="#1a9c85"/>
<line x1="326.79" y1="438.5" x2="326.79" y2="472.1" stroke="#1a9c85" stroke-width="0.9" stroke-opacity="0.85"/>
<rect x="326.04" y="451.7" width="1.5" height="19.2" fill="#1a9c85"/>
<line x1="329.33" y1="446.0" x2="329.33" y2="463.0" stroke="#f0404f" stroke-width="0.9" stroke-opacity="0.85"/>
<rect x="328.58" y="451.0" width="1.5" height="10.7" fill="#f0404f"/>
<line x1="331.87" y1="437.5" x2="331.87" y2="453.0" stroke="#1a9c85" stroke-width="0.9" stroke-opacity="0.85"/>
<rect x="331.12" y="439.3" width="1.5" height="12.4" fill="#1a9c85"/>
<line x1="334.41" y1="418.7" x2="334.41" y2="440.8" stroke="#1a9c85" stroke-width="0.9" stroke-opacity="0.85"/>
<rect x="333.66" y="420.0" width="1.5" height="19.3" fill="#1a9c85"/>
<line x1="336.95" y1="401.0" x2="336.95" y2="424.0" stroke="#1a9c85" stroke-width="0.9" stroke-opacity="0.85"/>
<rect x="336.20" y="417.6" width="1.5" height="2.4" fill="#1a9c85"/>
<line x1="339.49" y1="408.4" x2="339.49" y2="422.0" stroke="#1a9c85" stroke-width="0.9" stroke-opacity="0.85"/>
<rect x="338.74" y="415.0" width="1.5" height="3.4" fill="#1a9c85"/>
<line x1="342.03" y1="414.1" x2="342.03" y2="444.9" stroke="#f0404f" stroke-width="0.9" stroke-opacity="0.85"/>
<rect x="341.28" y="415.0" width="1.5" height="28.5" fill="#f0404f"/>
<line x1="344.57" y1="428.4" x2="344.57" y2="455.8" stroke="#f0404f" stroke-width="0.9" stroke-opacity="0.85"/>
<rect x="343.82" y="443.5" width="1.5" height="10.8" fill="#f0404f"/>
<line x1="347.11" y1="450.4" x2="347.11" y2="540.0" stroke="#f0404f" stroke-width="0.9" stroke-opacity="0.85"/>
<rect x="346.36" y="452.0" width="1.5" height="48.0" fill="#f0404f"/>
<line x1="349.65" y1="470.0" x2="349.65" y2="524.3" stroke="#1a9c85" stroke-width="0.9" stroke-opacity="0.85"/>
<rect x="348.90" y="496.8" width="1.5" height="3.2" fill="#1a9c85"/>
<line x1="352.19" y1="477.6" x2="352.19" y2="505.0" stroke="#1a9c85" stroke-width="0.9" stroke-opacity="0.85"/>
<rect x="351.44" y="493.4" width="1.5" height="4.2" fill="#1a9c85"/>
<line x1="354.74" y1="472.0" x2="354.74" y2="494.8" stroke="#1a9c85" stroke-width="0.9" stroke-opacity="0.85"/>
<rect x="353.99" y="475.9" width="1.5" height="17.5" fill="#1a9c85"/>
<line x1="357.28" y1="466.5" x2="357.28" y2="477.6" stroke="#1a9c85" stroke-width="0.9" stroke-opacity="0.85"/>
<rect x="356.53" y="468.4" width="1.5" height="7.5" fill="#1a9c85"/>
<line x1="359.82" y1="453.4" x2="359.82" y2="469.8" stroke="#1a9c85" stroke-width="0.9" stroke-opacity="0.85"/>
<rect x="359.07" y="455.0" width="1.5" height="13.4" fill="#1a9c85"/>
<line x1="362.36" y1="447.0" x2="362.36" y2="456.6" stroke="#1a9c85" stroke-width="0.9" stroke-opacity="0.85"/>
<rect x="361.61" y="450.9" width="1.5" height="4.1" fill="#1a9c85"/>
<line x1="364.90" y1="432.6" x2="364.90" y2="452.1" stroke="#1a9c85" stroke-width="0.9" stroke-opacity="0.85"/>
<rect x="364.15" y="444.2" width="1.5" height="6.7" fill="#1a9c85"/>
<line x1="367.44" y1="436.8" x2="367.44" y2="462.5" stroke="#f0404f" stroke-width="0.9" stroke-opacity="0.85"/>
<rect x="366.69" y="444.2" width="1.5" height="9.2" fill="#f0404f"/>
<line x1="369.98" y1="437.6" x2="369.98" y2="454.8" stroke="#1a9c85" stroke-width="0.9" stroke-opacity="0.85"/>
<rect x="369.23" y="441.7" width="1.5" height="11.7" fill="#1a9c85"/>
<line x1="372.52" y1="438.0" x2="372.52" y2="450.0" stroke="#f0404f" stroke-width="0.9" stroke-opacity="0.85"/>
<rect x="371.77" y="441.7" width="1.5" height="4.3" fill="#f0404f"/>
<line x1="375.06" y1="427.6" x2="375.06" y2="457.7" stroke="#1a9c85" stroke-width="0.9" stroke-opacity="0.85"/>
<rect x="374.31" y="435.0" width="1.5" height="11.7" fill="#1a9c85"/>
<line x1="377.60" y1="412.6" x2="377.60" y2="436.6" stroke="#1a9c85" stroke-width="0.9" stroke-opacity="0.85"/>
<rect x="376.85" y="418.4" width="1.5" height="16.6" fill="#1a9c85"/>
<line x1="380.14" y1="417.5" x2="380.14" y2="429.8" stroke="#f0404f" stroke-width="0.9" stroke-opacity="0.85"/>
<rect x="379.39" y="419.3" width="1.5" height="9.1" fill="#f0404f"/>
<line x1="382.68" y1="421.6" x2="382.68" y2="430.4" stroke="#f0404f" stroke-width="0.9" stroke-opacity="0.85"/>
<rect x="381.93" y="423.5" width="1.5" height="5.0" fill="#f0404f"/>
<line x1="385.22" y1="417.6" x2="385.22" y2="434.3" stroke="#f0404f" stroke-width="0.9" stroke-opacity="0.85"/>
<rect x="384.47" y="425.0" width="1.5" height="5.0" fill="#f0404f"/>
<line x1="387.76" y1="422.5" x2="387.76" y2="430.8" stroke="#1a9c85" stroke-width="0.9" stroke-opacity="0.85"/>
<rect x="387.01" y="424.3" width="1.5" height="5.0" fill="#1a9c85"/>
<line x1="390.31" y1="407.6" x2="390.31" y2="425.8" stroke="#1a9c85" stroke-width="0.9" stroke-opacity="0.85"/>
<rect x="389.56" y="413.5" width="1.5" height="10.8" fill="#1a9c85"/>
<line x1="392.85" y1="408.0" x2="392.85" y2="416.6" stroke="#1a9c85" stroke-width="0.9" stroke-opacity="0.85"/>
<rect x="392.10" y="411.8" width="1.5" height="3.2" fill="#1a9c85"/>
<line x1="395.39" y1="391.8" x2="395.39" y2="414.9" stroke="#1a9c85" stroke-width="0.9" stroke-opacity="0.85"/>
<rect x="394.64" y="398.4" width="1.5" height="15.1" fill="#1a9c85"/>
<line x1="397.93" y1="383.4" x2="397.93" y2="399.8" stroke="#1a9c85" stroke-width="0.9" stroke-opacity="0.85"/>
<rect x="397.18" y="385.0" width="1.5" height="13.4" fill="#1a9c85"/>
<line x1="400.47" y1="371.7" x2="400.47" y2="386.6" stroke="#1a9c85" stroke-width="0.9" stroke-opacity="0.85"/>
<rect x="399.72" y="375.9" width="1.5" height="9.1" fill="#1a9c85"/>
<line x1="403.01" y1="363.4" x2="403.01" y2="378.5" stroke="#1a9c85" stroke-width="0.9" stroke-opacity="0.85"/>
<rect x="402.26" y="365.0" width="1.5" height="11.7" fill="#1a9c85"/>
<line x1="405.55" y1="358.4" x2="405.55" y2="380.7" stroke="#f0404f" stroke-width="0.9" stroke-opacity="0.85"/>
<rect x="404.80" y="365.0" width="1.5" height="14.2" fill="#f0404f"/>
<line x1="408.09" y1="367.4" x2="408.09" y2="378.0" stroke="#1a9c85" stroke-width="0.9" stroke-opacity="0.85"/>
<rect x="407.34" y="369.2" width="1.5" height="5.0" fill="#1a9c85"/>
<line x1="410.63" y1="356.7" x2="410.63" y2="397.6" stroke="#f0404f" stroke-width="0.9" stroke-opacity="0.85"/>
<rect x="409.88" y="365.9" width="1.5" height="20.0" fill="#f0404f"/>
<line x1="413.17" y1="374.2" x2="413.17" y2="392.6" stroke="#1a9c85" stroke-width="0.9" stroke-opacity="0.85"/>
<rect x="412.42" y="380.0" width="1.5" height="5.0" fill="#1a9c85"/>
<line x1="415.71" y1="376.0" x2="415.71" y2="386.0" stroke="#f0404f" stroke-width="0.9" stroke-opacity="0.85"/>
<rect x="414.96" y="380.0" width="1.5" height="1.7" fill="#f0404f"/>
<line x1="418.25" y1="378.4" x2="418.25" y2="394.3" stroke="#f0404f" stroke-width="0.9" stroke-opacity="0.85"/>
<rect x="417.50" y="380.0" width="1.5" height="8.4" fill="#f0404f"/>
<line x1="420.79" y1="378.4" x2="420.79" y2="389.3" stroke="#f0404f" stroke-width="0.9" stroke-opacity="0.85"/>
<rect x="420.04" y="380.0" width="1.5" height="4.2" fill="#f0404f"/>
<line x1="423.33" y1="376.2" x2="423.33" y2="389.3" stroke="#1a9c85" stroke-width="0.9" stroke-opacity="0.85"/>
<rect x="422.58" y="377.6" width="1.5" height="5.8" fill="#1a9c85"/>
<line x1="425.87" y1="369.5" x2="425.87" y2="379.8" stroke="#1a9c85" stroke-width="0.9" stroke-opacity="0.85"/>
<rect x="425.12" y="370.9" width="1.5" height="7.5" fill="#1a9c85"/>
<line x1="428.42" y1="367.4" x2="428.42" y2="384.2" stroke="#1a9c85" stroke-width="0.9" stroke-opacity="0.85"/>
<rect x="427.67" y="369.2" width="1.5" height="6.7" fill="#1a9c85"/>
<line x1="430.96" y1="368.4" x2="430.96" y2="380.9" stroke="#f0404f" stroke-width="0.9" stroke-opacity="0.85"/>
<rect x="430.21" y="370.0" width="1.5" height="4.2" fill="#f0404f"/>
<line x1="433.50" y1="360.0" x2="433.50" y2="383.4" stroke="#1a9c85" stroke-width="0.9" stroke-opacity="0.85"/>
<rect x="432.75" y="365.9" width="1.5" height="8.3" fill="#1a9c85"/>
<line x1="436.04" y1="361.0" x2="436.04" y2="368.5" stroke="#1a9c85" stroke-width="0.9" stroke-opacity="0.85"/>
<rect x="435.29" y="365.0" width="1.5" height="1.7" fill="#1a9c85"/>
<line x1="438.58" y1="341.5" x2="438.58" y2="367.1" stroke="#1a9c85" stroke-width="0.9" stroke-opacity="0.85"/>
<rect x="437.83" y="343.3" width="1.5" height="22.6" fill="#1a9c85"/>
<line x1="441.12" y1="316.0" x2="441.12" y2="356.7" stroke="#1a9c85" stroke-width="0.9" stroke-opacity="0.85"/>
<rect x="440.37" y="334.5" width="1.5" height="8.8" fill="#1a9c85"/>
<line x1="443.66" y1="322.8" x2="443.66" y2="340.0" stroke="#1a9c85" stroke-width="0.9" stroke-opacity="0.85"/>
<rect x="442.91" y="331.0" width="1.5" height="5.0" fill="#1a9c85"/>
<line x1="446.20" y1="329.4" x2="446.20" y2="340.0" stroke="#f0404f" stroke-width="0.9" stroke-opacity="0.85"/>
<rect x="445.45" y="331.0" width="1.5" height="5.0" fill="#f0404f"/>
<line x1="448.74" y1="314.5" x2="448.74" y2="337.6" stroke="#1a9c85" stroke-width="0.9" stroke-opacity="0.85"/>
<rect x="447.99" y="326.0" width="1.5" height="10.0" fill="#1a9c85"/>
<line x1="451.28" y1="319.5" x2="451.28" y2="342.8" stroke="#f0404f" stroke-width="0.9" stroke-opacity="0.85"/>
<rect x="450.53" y="326.0" width="1.5" height="5.0" fill="#f0404f"/>
<line x1="453.82" y1="295.3" x2="453.82" y2="332.1" stroke="#1a9c85" stroke-width="0.9" stroke-opacity="0.85"/>
<rect x="453.07" y="302.8" width="1.5" height="28.2" fill="#1a9c85"/>
<line x1="456.36" y1="263.5" x2="456.36" y2="304.0" stroke="#1a9c85" stroke-width="0.9" stroke-opacity="0.85"/>
<rect x="455.61" y="275.2" width="1.5" height="27.6" fill="#1a9c85"/>
<line x1="458.90" y1="266.0" x2="458.90" y2="311.0" stroke="#1a9c85" stroke-width="0.9" stroke-opacity="0.85"/>
<rect x="458.15" y="274.4" width="1.5" height="1.6" fill="#1a9c85"/>
<line x1="461.44" y1="257.7" x2="461.44" y2="296.0" stroke="#1a9c85" stroke-width="0.9" stroke-opacity="0.85"/>
<rect x="460.69" y="266.0" width="1.5" height="8.4" fill="#1a9c85"/>
<line x1="463.99" y1="246.0" x2="463.99" y2="282.7" stroke="#1a9c85" stroke-width="0.9" stroke-opacity="0.85"/>
<rect x="463.24" y="262.7" width="1.5" height="3.3" fill="#1a9c85"/>
<line x1="466.53" y1="234.0" x2="466.53" y2="264.0" stroke="#1a9c85" stroke-width="0.9" stroke-opacity="0.85"/>
<rect x="465.78" y="237.7" width="1.5" height="25.0" fill="#1a9c85"/>
<line x1="469.07" y1="198.8" x2="469.07" y2="238.7" stroke="#1a9c85" stroke-width="0.9" stroke-opacity="0.85"/>
<rect x="468.32" y="208.8" width="1.5" height="28.4" fill="#1a9c85"/>
<line x1="471.61" y1="181.2" x2="471.61" y2="210.0" stroke="#1a9c85" stroke-width="0.9" stroke-opacity="0.85"/>
<rect x="470.86" y="192.1" width="1.5" height="16.7" fill="#1a9c85"/>
<line x1="474.15" y1="185.4" x2="474.15" y2="233.8" stroke="#f0404f" stroke-width="0.9" stroke-opacity="0.85"/>
<rect x="473.40" y="192.1" width="1.5" height="26.7" fill="#f0404f"/>
<line x1="476.69" y1="198.5" x2="476.69" y2="220.0" stroke="#1a9c85" stroke-width="0.9" stroke-opacity="0.85"/>
<rect x="475.94" y="200.4" width="1.5" height="18.4" fill="#1a9c85"/>
<line x1="479.23" y1="181.2" x2="479.23" y2="205.5" stroke="#1a9c85" stroke-width="0.9" stroke-opacity="0.85"/>
<rect x="478.48" y="190.4" width="1.5" height="10.0" fill="#1a9c85"/>
<line x1="481.77" y1="178.7" x2="481.77" y2="202.1" stroke="#1a9c85" stroke-width="0.9" stroke-opacity="0.85"/>
<rect x="481.02" y="186.3" width="1.5" height="4.1" fill="#1a9c85"/>
<line x1="484.31" y1="181.2" x2="484.31" y2="205.5" stroke="#f0404f" stroke-width="0.9" stroke-opacity="0.85"/>
<rect x="483.56" y="186.3" width="1.5" height="2.5" fill="#f0404f"/>
<line x1="486.85" y1="165.2" x2="486.85" y2="190.0" stroke="#1a9c85" stroke-width="0.9" stroke-opacity="0.85"/>
<rect x="486.10" y="167.1" width="1.5" height="21.7" fill="#1a9c85"/>
<line x1="489.39" y1="149.0" x2="489.39" y2="169.1" stroke="#1a9c85" stroke-width="0.9" stroke-opacity="0.85"/>
<rect x="488.64" y="153.0" width="1.5" height="15.0" fill="#1a9c85"/>
<line x1="491.93" y1="126.0" x2="491.93" y2="167.0" stroke="#1a9c85" stroke-width="0.9" stroke-opacity="0.85"/>
<rect x="491.18" y="145.2" width="1.5" height="8.3" fill="#1a9c85"/>
<line x1="494.47" y1="135.0" x2="494.47" y2="173.0" stroke="#f0404f" stroke-width="0.9" stroke-opacity="0.85"/>
<rect x="493.72" y="145.1" width="1.5" height="10.9" fill="#f0404f"/>
<line x1="497.01" y1="123.4" x2="497.01" y2="158.0" stroke="#1a9c85" stroke-width="0.9" stroke-opacity="0.85"/>
<rect x="496.26" y="127.6" width="1.5" height="29.2" fill="#1a9c85"/>
<line x1="499.56" y1="100.0" x2="499.56" y2="128.9" stroke="#1a9c85" stroke-width="0.9" stroke-opacity="0.85"/>
<rect x="498.81" y="105.9" width="1.5" height="21.7" fill="#1a9c85"/>
<line x1="502.10" y1="90.0" x2="502.10" y2="125.0" stroke="#f0404f" stroke-width="0.9" stroke-opacity="0.85"/>
<rect x="501.35" y="106.7" width="1.5" height="4.3" fill="#f0404f"/>
<line x1="504.64" y1="106.5" x2="504.64" y2="198.0" stroke="#f0404f" stroke-width="0.9" stroke-opacity="0.85"/>
<rect x="503.89" y="108.4" width="1.5" height="67.8" fill="#f0404f"/>
<line x1="507.18" y1="136.8" x2="507.18" y2="177.7" stroke="#1a9c85" stroke-width="0.9" stroke-opacity="0.85"/>
<rect x="506.43" y="158.5" width="1.5" height="17.7" fill="#1a9c85"/>
<line x1="509.72" y1="135.3" x2="509.72" y2="163.7" stroke="#1a9c85" stroke-width="0.9" stroke-opacity="0.85"/>
<rect x="508.97" y="147.0" width="1.5" height="12.5" fill="#1a9c85"/>
<line x1="512.26" y1="141.0" x2="512.26" y2="168.0" stroke="#f0404f" stroke-width="0.9" stroke-opacity="0.85"/>
<rect x="511.51" y="147.0" width="1.5" height="7.5" fill="#f0404f"/>
<line x1="514.80" y1="152.6" x2="514.80" y2="166.4" stroke="#f0404f" stroke-width="0.9" stroke-opacity="0.85"/>
<rect x="514.05" y="154.5" width="1.5" height="10.0" fill="#f0404f"/>
<line x1="517.34" y1="162.6" x2="517.34" y2="203.0" stroke="#f0404f" stroke-width="0.9" stroke-opacity="0.85"/>
<rect x="516.59" y="164.5" width="1.5" height="15.9" fill="#f0404f"/>
<line x1="519.88" y1="166.0" x2="519.88" y2="181.8" stroke="#1a9c85" stroke-width="0.9" stroke-opacity="0.85"/>
<rect x="519.13" y="167.9" width="1.5" height="12.5" fill="#1a9c85"/>
<line x1="522.42" y1="163.7" x2="522.42" y2="176.5" stroke="#f0404f" stroke-width="0.9" stroke-opacity="0.85"/>
<rect x="521.67" y="167.9" width="1.5" height="6.7" fill="#f0404f"/>
<line x1="524.96" y1="170.0" x2="524.96" y2="188.8" stroke="#f0404f" stroke-width="0.9" stroke-opacity="0.85"/>
<rect x="524.21" y="173.7" width="1.5" height="10.0" fill="#f0404f"/>
<line x1="527.50" y1="172.0" x2="527.50" y2="198.8" stroke="#1a9c85" stroke-width="0.9" stroke-opacity="0.85"/>
<rect x="526.75" y="172.9" width="1.5" height="10.8" fill="#1a9c85"/>
<line x1="530.04" y1="152.9" x2="530.04" y2="178.0" stroke="#1a9c85" stroke-width="0.9" stroke-opacity="0.85"/>
<rect x="529.29" y="160.4" width="1.5" height="12.5" fill="#1a9c85"/>
<line x1="532.58" y1="138.7" x2="532.58" y2="164.5" stroke="#1a9c85" stroke-width="0.9" stroke-opacity="0.85"/>
<rect x="531.83" y="147.0" width="1.5" height="13.4" fill="#1a9c85"/>
<line x1="535.12" y1="124.7" x2="535.12" y2="148.1" stroke="#1a9c85" stroke-width="0.9" stroke-opacity="0.85"/>
<rect x="534.37" y="125.1" width="1.5" height="21.9" fill="#1a9c85"/>
<line x1="537.67" y1="116.8" x2="537.67" y2="136.8" stroke="#1a9c85" stroke-width="0.9" stroke-opacity="0.85"/>
<rect x="536.92" y="120.9" width="1.5" height="4.2" fill="#1a9c85"/>
<line x1="540.21" y1="113.4" x2="540.21" y2="128.4" stroke="#1a9c85" stroke-width="0.9" stroke-opacity="0.85"/>
<rect x="539.46" y="117.6" width="1.5" height="3.3" fill="#1a9c85"/>
<line x1="542.75" y1="97.0" x2="542.75" y2="118.9" stroke="#1a9c85" stroke-width="0.9" stroke-opacity="0.85"/>
<rect x="542.00" y="98.4" width="1.5" height="19.2" fill="#1a9c85"/>
<line x1="545.29" y1="92.6" x2="545.29" y2="132.6" stroke="#f0404f" stroke-width="0.9" stroke-opacity="0.85"/>
<rect x="544.54" y="98.4" width="1.5" height="10.0" fill="#f0404f"/>
<line x1="547.83" y1="102.6" x2="547.83" y2="112.6" stroke="#f0404f" stroke-width="0.9" stroke-opacity="0.85"/>
<rect x="547.08" y="108.4" width="1.5" height="2.5" fill="#f0404f"/>
<line x1="550.37" y1="109.3" x2="550.37" y2="136.8" stroke="#f0404f" stroke-width="0.9" stroke-opacity="0.85"/>
<rect x="549.62" y="110.9" width="1.5" height="10.9" fill="#f0404f"/>
<line x1="552.91" y1="105.1" x2="552.91" y2="130.1" stroke="#1a9c85" stroke-width="0.9" stroke-opacity="0.85"/>
<rect x="552.16" y="109.2" width="1.5" height="13.4" fill="#1a9c85"/>
<line x1="555.45" y1="100.1" x2="555.45" y2="117.6" stroke="#1a9c85" stroke-width="0.9" stroke-opacity="0.85"/>
<rect x="554.70" y="108.4" width="1.5" height="1.7" fill="#1a9c85"/>
<line x1="557.99" y1="95.9" x2="557.99" y2="110.7" stroke="#1a9c85" stroke-width="0.9" stroke-opacity="0.85"/>
<rect x="557.24" y="104.2" width="1.5" height="5.0" fill="#1a9c85"/>
<line x1="560.53" y1="90.9" x2="560.53" y2="110.1" stroke="#1a9c85" stroke-width="0.9" stroke-opacity="0.85"/>
<rect x="559.78" y="98.4" width="1.5" height="5.8" fill="#1a9c85"/>
<line x1="563.07" y1="87.5" x2="563.07" y2="106.7" stroke="#1a9c85" stroke-width="0.9" stroke-opacity="0.85"/>
<rect x="562.32" y="92.6" width="1.5" height="5.8" fill="#1a9c85"/>
<line x1="565.61" y1="81.5" x2="565.61" y2="93.9" stroke="#1a9c85" stroke-width="0.9" stroke-opacity="0.85"/>
<rect x="564.86" y="83.4" width="1.5" height="9.2" fill="#1a9c85"/>
<line x1="568.15" y1="73.4" x2="568.15" y2="92.1" stroke="#1a9c85" stroke-width="0.9" stroke-opacity="0.85"/>
<rect x="567.40" y="81.7" width="1.5" height="9.2" fill="#1a9c85"/>
<line x1="570.69" y1="77.5" x2="570.69" y2="104.2" stroke="#f0404f" stroke-width="0.9" stroke-opacity="0.85"/>
<rect x="569.94" y="81.7" width="1.5" height="9.2" fill="#f0404f"/>
<line x1="573.24" y1="85.0" x2="573.24" y2="105.1" stroke="#f0404f" stroke-width="0.9" stroke-opacity="0.85"/>
<rect x="572.49" y="90.9" width="1.5" height="3.3" fill="#f0404f"/>
<line x1="575.78" y1="82.5" x2="575.78" y2="124.3" stroke="#f0404f" stroke-width="0.9" stroke-opacity="0.85"/>
<rect x="575.03" y="94.2" width="1.5" height="10.0" fill="#f0404f"/>
<line x1="578.32" y1="93.0" x2="578.32" y2="112.6" stroke="#f0404f" stroke-width="0.9" stroke-opacity="0.85"/>
<rect x="577.57" y="94.2" width="1.5" height="10.0" fill="#f0404f"/>
<line x1="580.86" y1="102.4" x2="580.86" y2="117.6" stroke="#f0404f" stroke-width="0.9" stroke-opacity="0.85"/>
<rect x="580.11" y="104.2" width="1.5" height="2.5" fill="#f0404f"/>
<line x1="583.40" y1="93.2" x2="583.40" y2="108.0" stroke="#1a9c85" stroke-width="0.9" stroke-opacity="0.85"/>
<rect x="582.65" y="95.1" width="1.5" height="11.6" fill="#1a9c85"/>
<line x1="585.94" y1="90.0" x2="585.94" y2="110.1" stroke="#f0404f" stroke-width="0.9" stroke-opacity="0.85"/>
<rect x="585.19" y="95.1" width="1.5" height="7.5" fill="#f0404f"/>
<line x1="588.48" y1="100.7" x2="588.48" y2="121.7" stroke="#f0404f" stroke-width="0.9" stroke-opacity="0.85"/>
<rect x="587.73" y="102.6" width="1.5" height="17.5" fill="#f0404f"/>
<line x1="591.02" y1="110.0" x2="591.02" y2="127.6" stroke="#1a9c85" stroke-width="0.9" stroke-opacity="0.85"/>
<rect x="590.27" y="110.9" width="1.5" height="9.2" fill="#1a9c85"/>
<line x1="593.56" y1="110.3" x2="593.56" y2="154.3" stroke="#f0404f" stroke-width="0.9" stroke-opacity="0.85"/>
<rect x="592.81" y="111.8" width="1.5" height="29.2" fill="#f0404f"/>
<line x1="596.10" y1="136.8" x2="596.10" y2="156.8" stroke="#f0404f" stroke-width="0.9" stroke-opacity="0.85"/>
<rect x="595.35" y="141.0" width="1.5" height="1.0" fill="#f0404f"/>
<line x1="598.64" y1="124.3" x2="598.64" y2="146.8" stroke="#1a9c85" stroke-width="0.9" stroke-opacity="0.85"/>
<rect x="597.89" y="125.9" width="1.5" height="15.9" fill="#1a9c85"/>
<line x1="601.18" y1="117.6" x2="601.18" y2="133.6" stroke="#f0404f" stroke-width="0.9" stroke-opacity="0.85"/>
<rect x="600.43" y="125.9" width="1.5" height="5.9" fill="#f0404f"/>
<line x1="603.72" y1="120.9" x2="603.72" y2="141.5" stroke="#f0404f" stroke-width="0.9" stroke-opacity="0.85"/>
<rect x="602.97" y="131.8" width="1.5" height="8.3" fill="#f0404f"/>
<line x1="606.26" y1="138.4" x2="606.26" y2="157.7" stroke="#f0404f" stroke-width="0.9" stroke-opacity="0.85"/>
<rect x="605.51" y="140.1" width="1.5" height="3.4" fill="#f0404f"/>
<line x1="608.81" y1="127.6" x2="608.81" y2="145.8" stroke="#f0404f" stroke-width="0.9" stroke-opacity="0.85"/>
<rect x="608.06" y="142.6" width="1.5" height="1.7" fill="#f0404f"/>
<line x1="611.35" y1="142.5" x2="611.35" y2="147.4" stroke="#f0404f" stroke-width="0.9" stroke-opacity="0.85"/>
<rect x="610.60" y="144.3" width="1.5" height="1.7" fill="#f0404f"/>
<line x1="613.89" y1="129.3" x2="613.89" y2="147.1" stroke="#1a9c85" stroke-width="0.9" stroke-opacity="0.85"/>
<rect x="613.14" y="131.0" width="1.5" height="15.0" fill="#1a9c85"/>
<line x1="616.43" y1="118.0" x2="616.43" y2="132.1" stroke="#1a9c85" stroke-width="0.9" stroke-opacity="0.85"/>
<rect x="615.68" y="118.4" width="1.5" height="12.6" fill="#1a9c85"/>
<line x1="618.97" y1="110.8" x2="618.97" y2="119.8" stroke="#1a9c85" stroke-width="0.9" stroke-opacity="0.85"/>
<rect x="618.22" y="111.8" width="1.5" height="6.6" fill="#1a9c85"/>
<line x1="621.51" y1="110.8" x2="621.51" y2="125.8" stroke="#f0404f" stroke-width="0.9" stroke-opacity="0.85"/>
<rect x="620.76" y="111.8" width="1.5" height="12.5" fill="#f0404f"/>
<line x1="624.05" y1="122.5" x2="624.05" y2="133.6" stroke="#f0404f" stroke-width="0.9" stroke-opacity="0.85"/>
<rect x="623.30" y="124.3" width="1.5" height="7.5" fill="#f0404f"/>
<line x1="626.59" y1="125.0" x2="626.59" y2="138.0" stroke="#f0404f" stroke-width="0.9" stroke-opacity="0.85"/>
<rect x="625.84" y="131.8" width="1.5" height="1.7" fill="#f0404f"/>
<line x1="629.13" y1="131.6" x2="629.13" y2="144.1" stroke="#f0404f" stroke-width="0.9" stroke-opacity="0.85"/>
<rect x="628.38" y="133.5" width="1.5" height="9.5" fill="#f0404f"/>
<line x1="631.67" y1="138.6" x2="631.67" y2="152.1" stroke="#f0404f" stroke-width="0.9" stroke-opacity="0.85"/>
<rect x="630.92" y="140.5" width="1.5" height="10.5" fill="#f0404f"/>
<line x1="634.21" y1="148.4" x2="634.21" y2="177.7" stroke="#f0404f" stroke-width="0.9" stroke-opacity="0.85"/>
<rect x="633.46" y="150.2" width="1.5" height="25.8" fill="#f0404f"/>
<line x1="636.75" y1="174.3" x2="636.75" y2="198.4" stroke="#f0404f" stroke-width="0.9" stroke-opacity="0.85"/>
<rect x="636.00" y="175.9" width="1.5" height="5.8" fill="#f0404f"/>
<line x1="639.29" y1="180.2" x2="639.29" y2="194.0" stroke="#f0404f" stroke-width="0.9" stroke-opacity="0.85"/>
<rect x="638.54" y="181.7" width="1.5" height="8.3" fill="#f0404f"/>
<line x1="641.83" y1="185.3" x2="641.83" y2="200.0" stroke="#f0404f" stroke-width="0.9" stroke-opacity="0.85"/>
<rect x="641.08" y="187.0" width="1.5" height="6.4" fill="#f0404f"/>
<line x1="644.38" y1="186.1" x2="644.38" y2="213.9" stroke="#f0404f" stroke-width="0.9" stroke-opacity="0.85"/>
<rect x="643.63" y="187.5" width="1.5" height="25.1" fill="#f0404f"/>
<line x1="646.92" y1="211.2" x2="646.92" y2="228.6" stroke="#f0404f" stroke-width="0.9" stroke-opacity="0.85"/>
<rect x="646.17" y="212.6" width="1.5" height="14.2" fill="#f0404f"/>
<line x1="649.46" y1="211.8" x2="649.46" y2="231.8" stroke="#1a9c85" stroke-width="0.9" stroke-opacity="0.85"/>
<rect x="648.71" y="217.6" width="1.5" height="9.2" fill="#1a9c85"/>
<line x1="652.00" y1="216.5" x2="652.00" y2="232.6" stroke="#f0404f" stroke-width="0.9" stroke-opacity="0.85"/>
<rect x="651.25" y="218.4" width="1.5" height="9.2" fill="#f0404f"/>
<line x1="654.54" y1="218.0" x2="654.54" y2="229.5" stroke="#1a9c85" stroke-width="0.9" stroke-opacity="0.85"/>
<rect x="653.79" y="221.8" width="1.5" height="5.8" fill="#1a9c85"/>
<line x1="657.08" y1="213.4" x2="657.08" y2="231.8" stroke="#1a9c85" stroke-width="0.9" stroke-opacity="0.85"/>
<rect x="656.33" y="215.1" width="1.5" height="7.5" fill="#1a9c85"/>
<line x1="659.62" y1="200.6" x2="659.62" y2="216.1" stroke="#1a9c85" stroke-width="0.9" stroke-opacity="0.85"/>
<rect x="658.87" y="202.6" width="1.5" height="12.5" fill="#1a9c85"/>
<line x1="662.16" y1="193.4" x2="662.16" y2="215.9" stroke="#1a9c85" stroke-width="0.9" stroke-opacity="0.85"/>
<rect x="661.41" y="197.6" width="1.5" height="5.0" fill="#1a9c85"/>
<line x1="664.70" y1="191.5" x2="664.70" y2="198.9" stroke="#1a9c85" stroke-width="0.9" stroke-opacity="0.85"/>
<rect x="663.95" y="193.4" width="1.5" height="4.2" fill="#1a9c85"/>
<line x1="667.24" y1="184.0" x2="667.24" y2="194.8" stroke="#1a9c85" stroke-width="0.9" stroke-opacity="0.85"/>
<rect x="666.49" y="185.9" width="1.5" height="7.5" fill="#1a9c85"/>
<line x1="669.78" y1="184.3" x2="669.78" y2="206.1" stroke="#f0404f" stroke-width="0.9" stroke-opacity="0.85"/>
<rect x="669.03" y="185.9" width="1.5" height="18.3" fill="#f0404f"/>
<line x1="672.32" y1="198.3" x2="672.32" y2="211.7" stroke="#f0404f" stroke-width="0.9" stroke-opacity="0.85"/>
<rect x="671.57" y="200.0" width="1.5" height="10.0" fill="#f0404f"/>
<line x1="674.86" y1="202.4" x2="674.86" y2="213.6" stroke="#f0404f" stroke-width="0.9" stroke-opacity="0.85"/>
<rect x="674.11" y="204.2" width="1.5" height="7.6" fill="#f0404f"/>
<line x1="677.40" y1="197.4" x2="677.40" y2="212.1" stroke="#1a9c85" stroke-width="0.9" stroke-opacity="0.85"/>
<rect x="676.65" y="199.2" width="1.5" height="11.7" fill="#1a9c85"/>
<line x1="679.94" y1="198.3" x2="679.94" y2="219.5" stroke="#f0404f" stroke-width="0.9" stroke-opacity="0.85"/>
<rect x="679.19" y="199.2" width="1.5" height="18.4" fill="#f0404f"/>
<line x1="682.49" y1="210.6" x2="682.49" y2="223.4" stroke="#1a9c85" stroke-width="0.9" stroke-opacity="0.85"/>
<rect x="681.74" y="212.6" width="1.5" height="5.0" fill="#1a9c85"/>
<line x1="685.03" y1="211.5" x2="685.03" y2="219.5" stroke="#f0404f" stroke-width="0.9" stroke-opacity="0.85"/>
<rect x="684.28" y="213.4" width="1.5" height="4.2" fill="#f0404f"/>
<line x1="687.57" y1="213.4" x2="687.57" y2="220.4" stroke="#1a9c85" stroke-width="0.9" stroke-opacity="0.85"/>
<rect x="686.82" y="215.1" width="1.5" height="3.3" fill="#1a9c85"/>
<line x1="690.11" y1="213.4" x2="690.11" y2="225.3" stroke="#f0404f" stroke-width="0.9" stroke-opacity="0.85"/>
<rect x="689.36" y="215.1" width="1.5" height="8.3" fill="#f0404f"/>
<line x1="692.65" y1="215.6" x2="692.65" y2="224.8" stroke="#1a9c85" stroke-width="0.9" stroke-opacity="0.85"/>
<rect x="691.90" y="217.6" width="1.5" height="5.8" fill="#1a9c85"/>
<line x1="695.19" y1="202.4" x2="695.19" y2="218.9" stroke="#1a9c85" stroke-width="0.9" stroke-opacity="0.85"/>
<rect x="694.44" y="204.2" width="1.5" height="13.4" fill="#1a9c85"/>
<line x1="697.73" y1="197.6" x2="697.73" y2="206.7" stroke="#1a9c85" stroke-width="0.9" stroke-opacity="0.85"/>
<rect x="696.98" y="201.7" width="1.5" height="3.4" fill="#1a9c85"/>
<line x1="700.27" y1="201.5" x2="700.27" y2="239.3" stroke="#f0404f" stroke-width="0.9" stroke-opacity="0.85"/>
<rect x="699.52" y="203.4" width="1.5" height="28.4" fill="#f0404f"/>
<line x1="702.81" y1="223.0" x2="702.81" y2="236.7" stroke="#f0404f" stroke-width="0.9" stroke-opacity="0.85"/>
<rect x="702.06" y="226.8" width="1.5" height="8.3" fill="#f0404f"/>
<line x1="705.35" y1="225.6" x2="705.35" y2="241.0" stroke="#1a9c85" stroke-width="0.9" stroke-opacity="0.85"/>
<rect x="704.60" y="227.6" width="1.5" height="7.5" fill="#1a9c85"/>
<line x1="707.89" y1="223.0" x2="707.89" y2="234.0" stroke="#f0404f" stroke-width="0.9" stroke-opacity="0.85"/>
<rect x="707.14" y="226.8" width="1.5" height="3.3" fill="#f0404f"/>
<line x1="710.43" y1="223.0" x2="710.43" y2="233.0" stroke="#1a9c85" stroke-width="0.9" stroke-opacity="0.85"/>
<rect x="709.68" y="226.8" width="1.5" height="2.5" fill="#1a9c85"/>
<line x1="712.97" y1="225.3" x2="712.97" y2="238.6" stroke="#f0404f" stroke-width="0.9" stroke-opacity="0.85"/>
<rect x="712.22" y="226.8" width="1.5" height="10.0" fill="#f0404f"/>
<line x1="715.51" y1="232.0" x2="715.51" y2="240.3" stroke="#f0404f" stroke-width="0.9" stroke-opacity="0.85"/>
<rect x="714.76" y="236.0" width="1.5" height="2.5" fill="#f0404f"/>
<line x1="718.06" y1="233.0" x2="718.06" y2="240.8" stroke="#f0404f" stroke-width="0.9" stroke-opacity="0.85"/>
<rect x="717.31" y="236.8" width="1.5" height="2.5" fill="#f0404f"/>
<line x1="720.60" y1="229.3" x2="720.60" y2="240.2" stroke="#1a9c85" stroke-width="0.9" stroke-opacity="0.85"/>
<rect x="719.85" y="231.0" width="1.5" height="8.3" fill="#1a9c85"/>
<line x1="723.14" y1="211.5" x2="723.14" y2="232.1" stroke="#1a9c85" stroke-width="0.9" stroke-opacity="0.85"/>
<rect x="722.39" y="213.4" width="1.5" height="17.6" fill="#1a9c85"/>
<line x1="725.68" y1="206.0" x2="725.68" y2="218.0" stroke="#1a9c85" stroke-width="0.9" stroke-opacity="0.85"/>
<rect x="724.93" y="210.1" width="1.5" height="4.2" fill="#1a9c85"/>
<line x1="728.22" y1="203.0" x2="728.22" y2="212.6" stroke="#1a9c85" stroke-width="0.9" stroke-opacity="0.85"/>
<rect x="727.47" y="206.7" width="1.5" height="4.2" fill="#1a9c85"/>
<line x1="730.76" y1="201.7" x2="730.76" y2="215.4" stroke="#f0404f" stroke-width="0.9" stroke-opacity="0.85"/>
<rect x="730.01" y="206.7" width="1.5" height="6.7" fill="#f0404f"/>
<line x1="733.30" y1="205.6" x2="733.30" y2="215.4" stroke="#1a9c85" stroke-width="0.9" stroke-opacity="0.85"/>
<rect x="732.55" y="207.6" width="1.5" height="5.8" fill="#1a9c85"/>
<line x1="735.84" y1="198.4" x2="735.84" y2="216.8" stroke="#1a9c85" stroke-width="0.9" stroke-opacity="0.85"/>
<rect x="735.09" y="200.1" width="1.5" height="7.5" fill="#1a9c85"/>
<line x1="738.38" y1="198.4" x2="738.38" y2="207.6" stroke="#f0404f" stroke-width="0.9" stroke-opacity="0.85"/>
<rect x="737.63" y="200.1" width="1.5" height="5.8" fill="#f0404f"/>
<line x1="740.92" y1="202.4" x2="740.92" y2="211.7" stroke="#f0404f" stroke-width="0.9" stroke-opacity="0.85"/>
<rect x="740.17" y="204.2" width="1.5" height="5.9" fill="#f0404f"/>
<line x1="743.46" y1="208.4" x2="743.46" y2="223.4" stroke="#f0404f" stroke-width="0.9" stroke-opacity="0.85"/>
<rect x="742.71" y="210.1" width="1.5" height="1.7" fill="#f0404f"/>
<line x1="746.00" y1="198.4" x2="746.00" y2="212.6" stroke="#1a9c85" stroke-width="0.9" stroke-opacity="0.85"/>
<rect x="745.25" y="200.1" width="1.5" height="10.8" fill="#1a9c85"/>
<line x1="748.54" y1="197.0" x2="748.54" y2="205.4" stroke="#f0404f" stroke-width="0.9" stroke-opacity="0.85"/>
<rect x="747.79" y="198.4" width="1.5" height="5.0" fill="#f0404f"/>
<line x1="751.08" y1="198.4" x2="751.08" y2="206.7" stroke="#1a9c85" stroke-width="0.9" stroke-opacity="0.85"/>
<rect x="750.33" y="200.1" width="1.5" height="5.0" fill="#1a9c85"/>
<line x1="753.63" y1="197.4" x2="753.63" y2="202.6" stroke="#1a9c85" stroke-width="0.9" stroke-opacity="0.85"/>
<rect x="752.88" y="199.2" width="1.5" height="1.7" fill="#1a9c85"/>
<line x1="756.17" y1="189.4" x2="756.17" y2="200.7" stroke="#1a9c85" stroke-width="0.9" stroke-opacity="0.85"/>
<rect x="755.42" y="190.0" width="1.5" height="9.2" fill="#1a9c85"/>
<line x1="758.71" y1="188.9" x2="758.71" y2="204.0" stroke="#f0404f" stroke-width="0.9" stroke-opacity="0.85"/>
<rect x="757.96" y="190.0" width="1.5" height="12.6" fill="#f0404f"/>
<line x1="761.25" y1="196.7" x2="761.25" y2="205.7" stroke="#1a9c85" stroke-width="0.9" stroke-opacity="0.85"/>
<rect x="760.50" y="201.7" width="1.5" height="2.5" fill="#1a9c85"/>
<line x1="763.79" y1="200.2" x2="763.79" y2="206.7" stroke="#f0404f" stroke-width="0.9" stroke-opacity="0.85"/>
<rect x="763.04" y="201.7" width="1.5" height="3.4" fill="#f0404f"/>
<line x1="766.33" y1="202.4" x2="766.33" y2="209.8" stroke="#f0404f" stroke-width="0.9" stroke-opacity="0.85"/>
<rect x="765.58" y="204.2" width="1.5" height="4.2" fill="#f0404f"/>
<line x1="768.87" y1="204.3" x2="768.87" y2="210.7" stroke="#1a9c85" stroke-width="0.9" stroke-opacity="0.85"/>
<rect x="768.12" y="206.0" width="1.5" height="3.0" fill="#1a9c85"/>
<line x1="771.41" y1="203.4" x2="771.41" y2="209.8" stroke="#1a9c85" stroke-width="0.9" stroke-opacity="0.85"/>
<rect x="770.66" y="205.1" width="1.5" height="3.3" fill="#1a9c85"/>
<line x1="773.95" y1="202.4" x2="773.95" y2="208.0" stroke="#f0404f" stroke-width="0.9" stroke-opacity="0.85"/>
<rect x="773.20" y="204.2" width="1.5" height="2.5" fill="#f0404f"/>
<line x1="776.49" y1="204.3" x2="776.49" y2="222.6" stroke="#f0404f" stroke-width="0.9" stroke-opacity="0.85"/>
<rect x="775.74" y="205.9" width="1.5" height="12.5" fill="#f0404f"/>
<line x1="779.03" y1="216.5" x2="779.03" y2="224.3" stroke="#f0404f" stroke-width="0.9" stroke-opacity="0.85"/>
<rect x="778.28" y="218.4" width="1.5" height="1.7" fill="#f0404f"/>
<line x1="781.57" y1="208.4" x2="781.57" y2="220.8" stroke="#1a9c85" stroke-width="0.9" stroke-opacity="0.85"/>
<rect x="780.82" y="210.1" width="1.5" height="9.2" fill="#1a9c85"/>
<line x1="784.11" y1="206.5" x2="784.11" y2="212.6" stroke="#1a9c85" stroke-width="0.9" stroke-opacity="0.85"/>
<rect x="783.36" y="208.4" width="1.5" height="2.5" fill="#1a9c85"/>
<line x1="786.65" y1="203.0" x2="786.65" y2="210.7" stroke="#1a9c85" stroke-width="0.9" stroke-opacity="0.85"/>
<rect x="785.90" y="206.7" width="1.5" height="2.5" fill="#1a9c85"/>
<line x1="789.19" y1="198.7" x2="789.19" y2="209.8" stroke="#1a9c85" stroke-width="0.9" stroke-opacity="0.85"/>
<rect x="788.44" y="200.1" width="1.5" height="8.3" fill="#1a9c85"/>
<line x1="791.74" y1="200.6" x2="791.74" y2="206.7" stroke="#f0404f" stroke-width="0.9" stroke-opacity="0.85"/>
<rect x="790.99" y="202.6" width="1.5" height="2.5" fill="#f0404f"/>
<line x1="794.28" y1="202.4" x2="794.28" y2="208.5" stroke="#f0404f" stroke-width="0.9" stroke-opacity="0.85"/>
<rect x="793.53" y="204.2" width="1.5" height="2.5" fill="#f0404f"/>
<line x1="796.82" y1="204.3" x2="796.82" y2="210.7" stroke="#f0404f" stroke-width="0.9" stroke-opacity="0.85"/>
<rect x="796.07" y="205.9" width="1.5" height="3.3" fill="#f0404f"/>
<line x1="799.36" y1="206.5" x2="799.36" y2="211.7" stroke="#f0404f" stroke-width="0.9" stroke-opacity="0.85"/>
<rect x="798.61" y="208.4" width="1.5" height="1.7" fill="#f0404f"/>
<line x1="801.90" y1="207.1" x2="801.90" y2="224.3" stroke="#f0404f" stroke-width="0.9" stroke-opacity="0.85"/>
<rect x="801.15" y="208.4" width="1.5" height="10.0" fill="#f0404f"/>
<line x1="804.44" y1="213.0" x2="804.44" y2="220.8" stroke="#f0404f" stroke-width="0.9" stroke-opacity="0.85"/>
<rect x="803.69" y="216.8" width="1.5" height="2.5" fill="#f0404f"/>
<line x1="806.98" y1="213.4" x2="806.98" y2="219.8" stroke="#f0404f" stroke-width="0.9" stroke-opacity="0.85"/>
<rect x="806.23" y="215.1" width="1.5" height="3.3" fill="#f0404f"/>
<line x1="809.52" y1="216.5" x2="809.52" y2="221.7" stroke="#f0404f" stroke-width="0.9" stroke-opacity="0.85"/>
<rect x="808.77" y="218.4" width="1.5" height="1.7" fill="#f0404f"/>
<line x1="812.06" y1="216.5" x2="812.06" y2="222.8" stroke="#1a9c85" stroke-width="0.9" stroke-opacity="0.85"/>
<rect x="811.31" y="218.4" width="1.5" height="2.5" fill="#1a9c85"/>
<line x1="814.60" y1="215.6" x2="814.60" y2="220.8" stroke="#1a9c85" stroke-width="0.9" stroke-opacity="0.85"/>
<rect x="813.85" y="217.6" width="1.5" height="1.7" fill="#1a9c85"/>
<line x1="817.14" y1="211.5" x2="817.14" y2="219.8" stroke="#1a9c85" stroke-width="0.9" stroke-opacity="0.85"/>
<rect x="816.39" y="213.4" width="1.5" height="5.0" fill="#1a9c85"/>
<line x1="819.68" y1="211.5" x2="819.68" y2="218.6" stroke="#f0404f" stroke-width="0.9" stroke-opacity="0.85"/>
<rect x="818.93" y="213.4" width="1.5" height="3.4" fill="#f0404f"/>
<line x1="822.22" y1="214.0" x2="822.22" y2="223.1" stroke="#f0404f" stroke-width="0.9" stroke-opacity="0.85"/>
<rect x="821.47" y="217.8" width="1.5" height="4.2" fill="#f0404f"/>
<line x1="824.76" y1="213.1" x2="824.76" y2="223.1" stroke="#1a9c85" stroke-width="0.9" stroke-opacity="0.85"/>
<rect x="824.01" y="214.5" width="1.5" height="7.5" fill="#1a9c85"/>
<line x1="827.31" y1="204.4" x2="827.31" y2="215.3" stroke="#1a9c85" stroke-width="0.9" stroke-opacity="0.85"/>
<rect x="826.56" y="206.1" width="1.5" height="8.4" fill="#1a9c85"/>
<line x1="829.85" y1="197.2" x2="829.85" y2="208.1" stroke="#1a9c85" stroke-width="0.9" stroke-opacity="0.85"/>
<rect x="829.10" y="198.6" width="1.5" height="8.4" fill="#1a9c85"/>
<line x1="832.39" y1="187.2" x2="832.39" y2="199.9" stroke="#1a9c85" stroke-width="0.9" stroke-opacity="0.85"/>
<rect x="831.64" y="188.6" width="1.5" height="10.0" fill="#1a9c85"/>
<line x1="834.93" y1="185.2" x2="834.93" y2="197.7" stroke="#f0404f" stroke-width="0.9" stroke-opacity="0.85"/>
<rect x="834.18" y="189.4" width="1.5" height="6.7" fill="#f0404f"/>
<line x1="837.47" y1="187.5" x2="837.47" y2="196.8" stroke="#1a9c85" stroke-width="0.9" stroke-opacity="0.85"/>
<rect x="836.72" y="189.4" width="1.5" height="5.9" fill="#1a9c85"/>
<line x1="840.01" y1="183.4" x2="840.01" y2="190.8" stroke="#1a9c85" stroke-width="0.9" stroke-opacity="0.85"/>
<rect x="839.26" y="185.2" width="1.5" height="4.2" fill="#1a9c85"/>
<line x1="842.55" y1="172.7" x2="842.55" y2="186.2" stroke="#1a9c85" stroke-width="0.9" stroke-opacity="0.85"/>
<rect x="841.80" y="173.6" width="1.5" height="11.6" fill="#1a9c85"/>
<line x1="845.09" y1="171.6" x2="845.09" y2="184.9" stroke="#f0404f" stroke-width="0.9" stroke-opacity="0.85"/>
<rect x="844.34" y="173.6" width="1.5" height="10.0" fill="#f0404f"/>
<line x1="847.63" y1="169.4" x2="847.63" y2="184.0" stroke="#1a9c85" stroke-width="0.9" stroke-opacity="0.85"/>
<rect x="846.88" y="171.1" width="1.5" height="11.6" fill="#1a9c85"/>
<line x1="850.17" y1="162.7" x2="850.17" y2="173.6" stroke="#1a9c85" stroke-width="0.9" stroke-opacity="0.85"/>
<rect x="849.42" y="170.2" width="1.5" height="1.7" fill="#1a9c85"/>
<line x1="852.71" y1="161.9" x2="852.71" y2="181.9" stroke="#f0404f" stroke-width="0.9" stroke-opacity="0.85"/>
<rect x="851.96" y="169.4" width="1.5" height="8.3" fill="#f0404f"/>
<line x1="855.25" y1="159.4" x2="855.25" y2="180.8" stroke="#f0404f" stroke-width="0.9" stroke-opacity="0.85"/>
<rect x="854.50" y="168.6" width="1.5" height="10.8" fill="#f0404f"/>
<line x1="857.79" y1="163.5" x2="857.79" y2="174.0" stroke="#1a9c85" stroke-width="0.9" stroke-opacity="0.85"/>
<rect x="857.04" y="168.6" width="1.5" height="1.6" fill="#1a9c85"/>
<line x1="860.33" y1="168.4" x2="860.33" y2="181.9" stroke="#f0404f" stroke-width="0.9" stroke-opacity="0.85"/>
<rect x="859.58" y="170.2" width="1.5" height="5.0" fill="#f0404f"/>
<line x1="862.88" y1="167.5" x2="862.88" y2="176.7" stroke="#1a9c85" stroke-width="0.9" stroke-opacity="0.85"/>
<rect x="862.13" y="169.4" width="1.5" height="5.8" fill="#1a9c85"/>
<line x1="865.42" y1="164.3" x2="865.42" y2="175.8" stroke="#1a9c85" stroke-width="0.9" stroke-opacity="0.85"/>
<rect x="864.67" y="165.2" width="1.5" height="9.2" fill="#1a9c85"/>
<line x1="867.96" y1="151.2" x2="867.96" y2="167.1" stroke="#1a9c85" stroke-width="0.9" stroke-opacity="0.85"/>
<rect x="867.21" y="152.7" width="1.5" height="13.4" fill="#1a9c85"/>
<line x1="870.50" y1="146.6" x2="870.50" y2="154.9" stroke="#1a9c85" stroke-width="0.9" stroke-opacity="0.85"/>
<rect x="869.75" y="148.5" width="1.5" height="5.0" fill="#1a9c85"/>
<line x1="873.04" y1="129.3" x2="873.04" y2="150.3" stroke="#1a9c85" stroke-width="0.9" stroke-opacity="0.85"/>
<rect x="872.29" y="130.8" width="1.5" height="18.6" fill="#1a9c85"/>
<line x1="875.58" y1="118.1" x2="875.58" y2="132.0" stroke="#1a9c85" stroke-width="0.9" stroke-opacity="0.85"/>
<rect x="874.83" y="119.9" width="1.5" height="10.9" fill="#1a9c85"/>
<line x1="878.12" y1="110.7" x2="878.12" y2="128.3" stroke="#f0404f" stroke-width="0.9" stroke-opacity="0.85"/>
<rect x="877.37" y="119.9" width="1.5" height="2.5" fill="#f0404f"/>
<line x1="880.66" y1="118.3" x2="880.66" y2="137.5" stroke="#f0404f" stroke-width="0.9" stroke-opacity="0.85"/>
<rect x="879.91" y="119.9" width="1.5" height="2.5" fill="#f0404f"/>
<line x1="883.20" y1="113.3" x2="883.20" y2="123.8" stroke="#1a9c85" stroke-width="0.9" stroke-opacity="0.85"/>
<rect x="882.45" y="114.9" width="1.5" height="7.5" fill="#1a9c85"/>
<line x1="885.74" y1="113.3" x2="885.74" y2="123.8" stroke="#f0404f" stroke-width="0.9" stroke-opacity="0.85"/>
<rect x="884.99" y="114.9" width="1.5" height="7.5" fill="#f0404f"/>
<line x1="888.28" y1="115.8" x2="888.28" y2="151.6" stroke="#f0404f" stroke-width="0.9" stroke-opacity="0.85"/>
<rect x="887.53" y="122.4" width="1.5" height="13.4" fill="#f0404f"/>
<line x1="890.82" y1="130.0" x2="890.82" y2="145.8" stroke="#1a9c85" stroke-width="0.9" stroke-opacity="0.85"/>
<rect x="890.07" y="134.1" width="1.5" height="1.7" fill="#1a9c85"/>
<line x1="893.36" y1="128.3" x2="893.36" y2="136.6" stroke="#1a9c85" stroke-width="0.9" stroke-opacity="0.85"/>
<rect x="892.61" y="133.3" width="1.5" height="1.6" fill="#1a9c85"/>
<line x1="895.90" y1="132.4" x2="895.90" y2="147.5" stroke="#f0404f" stroke-width="0.9" stroke-opacity="0.85"/>
<rect x="895.15" y="134.1" width="1.5" height="5.0" fill="#f0404f"/>
<line x1="898.45" y1="133.3" x2="898.45" y2="141.7" stroke="#f0404f" stroke-width="0.9" stroke-opacity="0.85"/>
<rect x="897.70" y="134.9" width="1.5" height="5.1" fill="#f0404f"/>
<line x1="900.99" y1="131.6" x2="900.99" y2="142.6" stroke="#1a9c85" stroke-width="0.9" stroke-opacity="0.85"/>
<rect x="900.24" y="135.8" width="1.5" height="5.0" fill="#1a9c85"/>
<line x1="903.53" y1="120.6" x2="903.53" y2="137.0" stroke="#1a9c85" stroke-width="0.9" stroke-opacity="0.85"/>
<rect x="902.78" y="122.4" width="1.5" height="13.4" fill="#1a9c85"/>
<line x1="906.07" y1="118.3" x2="906.07" y2="126.6" stroke="#f0404f" stroke-width="0.9" stroke-opacity="0.85"/>
<rect x="905.32" y="122.4" width="1.5" height="2.5" fill="#f0404f"/>
<line x1="908.61" y1="122.4" x2="908.61" y2="128.5" stroke="#f0404f" stroke-width="0.9" stroke-opacity="0.85"/>
<rect x="907.86" y="124.1" width="1.5" height="2.5" fill="#f0404f"/>
<line x1="911.15" y1="124.3" x2="911.15" y2="132.9" stroke="#f0404f" stroke-width="0.9" stroke-opacity="0.85"/>
<rect x="910.40" y="125.8" width="1.5" height="5.8" fill="#f0404f"/>
<line x1="913.69" y1="129.3" x2="913.69" y2="138.9" stroke="#f0404f" stroke-width="0.9" stroke-opacity="0.85"/>
<rect x="912.94" y="130.8" width="1.5" height="6.7" fill="#f0404f"/>
<line x1="916.23" y1="134.6" x2="916.23" y2="140.7" stroke="#f0404f" stroke-width="0.9" stroke-opacity="0.85"/>
<rect x="915.48" y="136.6" width="1.5" height="2.5" fill="#f0404f"/>
<line x1="918.77" y1="134.3" x2="918.77" y2="158.3" stroke="#f0404f" stroke-width="0.9" stroke-opacity="0.85"/>
<rect x="918.02" y="135.8" width="1.5" height="18.4" fill="#f0404f"/>
<line x1="921.31" y1="138.3" x2="921.31" y2="155.2" stroke="#1a9c85" stroke-width="0.9" stroke-opacity="0.85"/>
<rect x="920.56" y="140.0" width="1.5" height="14.2" fill="#1a9c85"/>
<line x1="923.85" y1="127.9" x2="923.85" y2="141.1" stroke="#1a9c85" stroke-width="0.9" stroke-opacity="0.85"/>
<rect x="923.10" y="129.1" width="1.5" height="10.9" fill="#1a9c85"/>
<line x1="926.39" y1="127.4" x2="926.39" y2="137.6" stroke="#f0404f" stroke-width="0.9" stroke-opacity="0.85"/>
<rect x="925.64" y="129.1" width="1.5" height="6.7" fill="#f0404f"/>
<line x1="928.93" y1="133.3" x2="928.93" y2="158.9" stroke="#f0404f" stroke-width="0.9" stroke-opacity="0.85"/>
<rect x="928.18" y="134.9" width="1.5" height="22.6" fill="#f0404f"/>
<line x1="931.47" y1="151.1" x2="931.47" y2="178.6" stroke="#f0404f" stroke-width="0.9" stroke-opacity="0.85"/>
<rect x="930.72" y="152.5" width="1.5" height="6.7" fill="#f0404f"/>
<line x1="934.01" y1="150.6" x2="934.01" y2="159.8" stroke="#1a9c85" stroke-width="0.9" stroke-opacity="0.85"/>
<rect x="933.26" y="152.5" width="1.5" height="5.8" fill="#1a9c85"/>
<line x1="936.56" y1="144.9" x2="936.56" y2="153.9" stroke="#1a9c85" stroke-width="0.9" stroke-opacity="0.85"/>
<rect x="935.81" y="145.8" width="1.5" height="6.7" fill="#1a9c85"/>
<line x1="939.10" y1="145.2" x2="939.10" y2="162.0" stroke="#f0404f" stroke-width="0.9" stroke-opacity="0.85"/>
<rect x="938.35" y="146.6" width="1.5" height="14.2" fill="#f0404f"/>
<line x1="941.64" y1="157.4" x2="941.64" y2="169.2" stroke="#f0404f" stroke-width="0.9" stroke-opacity="0.85"/>
<rect x="940.89" y="159.2" width="1.5" height="4.1" fill="#f0404f"/>
<line x1="944.18" y1="157.4" x2="944.18" y2="164.8" stroke="#1a9c85" stroke-width="0.9" stroke-opacity="0.85"/>
<rect x="943.43" y="159.2" width="1.5" height="4.1" fill="#1a9c85"/>
<line x1="946.72" y1="148.3" x2="946.72" y2="160.7" stroke="#1a9c85" stroke-width="0.9" stroke-opacity="0.85"/>
<rect x="945.97" y="150.0" width="1.5" height="9.2" fill="#1a9c85"/>
<line x1="949.26" y1="142.4" x2="949.26" y2="152.0" stroke="#1a9c85" stroke-width="0.9" stroke-opacity="0.85"/>
<rect x="948.51" y="144.1" width="1.5" height="6.7" fill="#1a9c85"/>
<line x1="951.80" y1="143.3" x2="951.80" y2="158.3" stroke="#f0404f" stroke-width="0.9" stroke-opacity="0.85"/>
<rect x="951.05" y="145.0" width="1.5" height="7.5" fill="#f0404f"/>
<line x1="954.34" y1="147.0" x2="954.34" y2="156.7" stroke="#1a9c85" stroke-width="0.9" stroke-opacity="0.85"/>
<rect x="953.59" y="150.8" width="1.5" height="4.2" fill="#1a9c85"/>
<line x1="956.88" y1="141.5" x2="956.88" y2="152.9" stroke="#1a9c85" stroke-width="0.9" stroke-opacity="0.85"/>
<rect x="956.13" y="143.3" width="1.5" height="8.3" fill="#1a9c85"/>
<line x1="959.42" y1="141.1" x2="959.42" y2="152.0" stroke="#f0404f" stroke-width="0.9" stroke-opacity="0.85"/>
<rect x="958.67" y="142.5" width="1.5" height="8.3" fill="#f0404f"/>
<line x1="961.96" y1="147.4" x2="961.96" y2="155.7" stroke="#f0404f" stroke-width="0.9" stroke-opacity="0.85"/>
<rect x="961.21" y="149.1" width="1.5" height="5.1" fill="#f0404f"/>
<line x1="964.50" y1="124.8" x2="964.50" y2="155.7" stroke="#1a9c85" stroke-width="0.9" stroke-opacity="0.85"/>
<rect x="963.75" y="126.6" width="1.5" height="27.6" fill="#1a9c85"/>
<line x1="967.04" y1="118.3" x2="967.04" y2="127.9" stroke="#1a9c85" stroke-width="0.9" stroke-opacity="0.85"/>
<rect x="966.29" y="119.9" width="1.5" height="6.7" fill="#1a9c85"/>
<line x1="969.58" y1="99.1" x2="969.58" y2="121.1" stroke="#1a9c85" stroke-width="0.9" stroke-opacity="0.85"/>
<rect x="968.83" y="103.2" width="1.5" height="16.7" fill="#1a9c85"/>
<line x1="972.13" y1="91.5" x2="972.13" y2="105.1" stroke="#1a9c85" stroke-width="0.9" stroke-opacity="0.85"/>
<rect x="971.38" y="92.4" width="1.5" height="11.7" fill="#1a9c85"/>
<line x1="974.67" y1="78.9" x2="974.67" y2="93.8" stroke="#1a9c85" stroke-width="0.9" stroke-opacity="0.85"/>
<rect x="973.92" y="79.9" width="1.5" height="12.5" fill="#1a9c85"/>
<line x1="977.21" y1="79.2" x2="977.21" y2="87.5" stroke="#f0404f" stroke-width="0.9" stroke-opacity="0.85"/>
<rect x="976.46" y="80.7" width="1.5" height="5.0" fill="#f0404f"/>
<line x1="979.75" y1="83.5" x2="979.75" y2="114.1" stroke="#f0404f" stroke-width="0.9" stroke-opacity="0.85"/>
<rect x="979.00" y="84.9" width="1.5" height="20.8" fill="#f0404f"/>
<line x1="982.29" y1="96.6" x2="982.29" y2="107.5" stroke="#1a9c85" stroke-width="0.9" stroke-opacity="0.85"/>
<rect x="981.54" y="103.2" width="1.5" height="2.5" fill="#1a9c85"/>
<line x1="984.83" y1="90.6" x2="984.83" y2="104.7" stroke="#1a9c85" stroke-width="0.9" stroke-opacity="0.85"/>
<rect x="984.08" y="91.5" width="1.5" height="11.7" fill="#1a9c85"/>
<line x1="987.37" y1="89.7" x2="987.37" y2="105.1" stroke="#f0404f" stroke-width="0.9" stroke-opacity="0.85"/>
<rect x="986.62" y="91.5" width="1.5" height="11.7" fill="#f0404f"/>
<line x1="989.91" y1="85.7" x2="989.91" y2="111.6" stroke="#1a9c85" stroke-width="0.9" stroke-opacity="0.85"/>
<rect x="989.16" y="97.4" width="1.5" height="5.0" fill="#1a9c85"/>
<line x1="992.45" y1="87.3" x2="992.45" y2="102.0" stroke="#f0404f" stroke-width="0.9" stroke-opacity="0.85"/>
<rect x="991.70" y="89.0" width="1.5" height="7.0" fill="#f0404f"/>
<line x1="994.99" y1="93.7" x2="994.99" y2="115.8" stroke="#f0404f" stroke-width="0.9" stroke-opacity="0.85"/>
<rect x="994.24" y="95.2" width="1.5" height="15.9" fill="#f0404f"/>
<line x1="997.53" y1="107.4" x2="997.53" y2="138.6" stroke="#f0404f" stroke-width="0.9" stroke-opacity="0.85"/>
<rect x="996.78" y="112.0" width="1.5" height="5.8" fill="#f0404f"/>
<line x1="1000.07" y1="108.6" x2="1000.07" y2="119.9" stroke="#1a9c85" stroke-width="0.9" stroke-opacity="0.85"/>
<rect x="999.32" y="113.6" width="1.5" height="5.0" fill="#1a9c85"/>
<line x1="1002.61" y1="111.6" x2="1002.61" y2="116.8" stroke="#f0404f" stroke-width="0.9" stroke-opacity="0.85"/>
<rect x="1001.86" y="113.6" width="1.5" height="1.7" fill="#f0404f"/>
<line x1="1005.15" y1="112.5" x2="1005.15" y2="137.8" stroke="#f0404f" stroke-width="0.9" stroke-opacity="0.85"/>
<rect x="1004.40" y="114.4" width="1.5" height="5.9" fill="#f0404f"/>
<line x1="1007.70" y1="112.2" x2="1007.70" y2="139.0" stroke="#f0404f" stroke-width="0.9" stroke-opacity="0.85"/>
<rect x="1006.95" y="113.6" width="1.5" height="24.2" fill="#f0404f"/>
<line x1="1010.24" y1="130.3" x2="1010.24" y2="148.7" stroke="#1a9c85" stroke-width="0.9" stroke-opacity="0.85"/>
<rect x="1009.49" y="132.0" width="1.5" height="5.8" fill="#1a9c85"/>
<line x1="1012.78" y1="129.4" x2="1012.78" y2="138.7" stroke="#f0404f" stroke-width="0.9" stroke-opacity="0.85"/>
<rect x="1012.03" y="131.1" width="1.5" height="5.9" fill="#f0404f"/>
<line x1="1015.32" y1="126.3" x2="1015.32" y2="140.9" stroke="#f0404f" stroke-width="0.9" stroke-opacity="0.85"/>
<rect x="1014.57" y="127.8" width="1.5" height="11.7" fill="#f0404f"/>
<line x1="1017.86" y1="138.1" x2="1017.86" y2="153.6" stroke="#f0404f" stroke-width="0.9" stroke-opacity="0.85"/>
<rect x="1017.11" y="139.5" width="1.5" height="13.3" fill="#f0404f"/>
<line x1="1020.40" y1="143.3" x2="1020.40" y2="162.0" stroke="#1a9c85" stroke-width="0.9" stroke-opacity="0.85"/>
<rect x="1019.65" y="145.0" width="1.5" height="7.0" fill="#1a9c85"/>
<line x1="1022.94" y1="141.3" x2="1022.94" y2="146.8" stroke="#1a9c85" stroke-width="0.9" stroke-opacity="0.85"/>
<rect x="1022.19" y="142.8" width="1.5" height="2.5" fill="#1a9c85"/>
<line x1="1025.48" y1="132.5" x2="1025.48" y2="144.0" stroke="#1a9c85" stroke-width="0.9" stroke-opacity="0.85"/>
<rect x="1024.73" y="133.6" width="1.5" height="9.2" fill="#1a9c85"/>
<line x1="1028.02" y1="133.5" x2="1028.02" y2="139.0" stroke="#f0404f" stroke-width="0.9" stroke-opacity="0.85"/>
<rect x="1027.27" y="135.3" width="1.5" height="2.5" fill="#f0404f"/>
<line x1="1030.56" y1="111.3" x2="1030.56" y2="139.0" stroke="#1a9c85" stroke-width="0.9" stroke-opacity="0.85"/>
<rect x="1029.81" y="112.8" width="1.5" height="25.0" fill="#1a9c85"/>
<line x1="1033.10" y1="109.4" x2="1033.10" y2="121.9" stroke="#f0404f" stroke-width="0.9" stroke-opacity="0.85"/>
<rect x="1032.35" y="115.3" width="1.5" height="1.7" fill="#f0404f"/>
<line x1="1035.64" y1="109.4" x2="1035.64" y2="116.8" stroke="#1a9c85" stroke-width="0.9" stroke-opacity="0.85"/>
<rect x="1034.89" y="113.6" width="1.5" height="1.7" fill="#1a9c85"/>
<line x1="1038.18" y1="113.5" x2="1038.18" y2="123.6" stroke="#f0404f" stroke-width="0.9" stroke-opacity="0.85"/>
<rect x="1037.43" y="115.3" width="1.5" height="6.6" fill="#f0404f"/>
<line x1="1040.72" y1="116.6" x2="1040.72" y2="124.0" stroke="#f0404f" stroke-width="0.9" stroke-opacity="0.85"/>
<rect x="1039.97" y="118.6" width="1.5" height="1.7" fill="#f0404f"/>
<line x1="1043.26" y1="113.6" x2="1043.26" y2="127.7" stroke="#f0404f" stroke-width="0.9" stroke-opacity="0.85"/>
<rect x="1042.51" y="119.4" width="1.5" height="6.7" fill="#f0404f"/>
<line x1="1045.81" y1="121.3" x2="1045.81" y2="136.3" stroke="#f0404f" stroke-width="0.9" stroke-opacity="0.85"/>
<rect x="1045.06" y="122.8" width="1.5" height="11.7" fill="#f0404f"/>
<line x1="1048.35" y1="121.3" x2="1048.35" y2="134.9" stroke="#1a9c85" stroke-width="0.9" stroke-opacity="0.85"/>
<rect x="1047.60" y="122.8" width="1.5" height="10.8" fill="#1a9c85"/>
<line x1="1050.89" y1="118.5" x2="1050.89" y2="124.6" stroke="#1a9c85" stroke-width="0.9" stroke-opacity="0.85"/>
<rect x="1050.14" y="120.3" width="1.5" height="2.5" fill="#1a9c85"/>
<line x1="1053.43" y1="104.9" x2="1053.43" y2="124.0" stroke="#1a9c85" stroke-width="0.9" stroke-opacity="0.85"/>
<rect x="1052.68" y="106.1" width="1.5" height="16.7" fill="#1a9c85"/>
<line x1="1055.97" y1="87.2" x2="1055.97" y2="109.0" stroke="#1a9c85" stroke-width="0.9" stroke-opacity="0.85"/>
<rect x="1055.22" y="88.6" width="1.5" height="19.2" fill="#1a9c85"/>
<line x1="1058.51" y1="85.3" x2="1058.51" y2="93.1" stroke="#1a9c85" stroke-width="0.9" stroke-opacity="0.85"/>
<rect x="1057.76" y="86.9" width="1.5" height="5.0" fill="#1a9c85"/>
<line x1="1061.05" y1="87.2" x2="1061.05" y2="102.1" stroke="#f0404f" stroke-width="0.9" stroke-opacity="0.85"/>
<rect x="1060.30" y="88.6" width="1.5" height="11.6" fill="#f0404f"/>
<line x1="1063.59" y1="83.4" x2="1063.59" y2="101.2" stroke="#1a9c85" stroke-width="0.9" stroke-opacity="0.85"/>
<rect x="1062.84" y="85.2" width="1.5" height="15.0" fill="#1a9c85"/>
<line x1="1066.13" y1="75.2" x2="1066.13" y2="87.7" stroke="#1a9c85" stroke-width="0.9" stroke-opacity="0.85"/>
<rect x="1065.38" y="81.0" width="1.5" height="5.1" fill="#1a9c85"/>
<line x1="1068.67" y1="75.3" x2="1068.67" y2="90.2" stroke="#1a9c85" stroke-width="0.9" stroke-opacity="0.85"/>
<rect x="1067.92" y="76.9" width="1.5" height="4.1" fill="#1a9c85"/>
<line x1="1071.21" y1="77.5" x2="1071.21" y2="88.6" stroke="#f0404f" stroke-width="0.9" stroke-opacity="0.85"/>
<rect x="1070.46" y="79.4" width="1.5" height="7.5" fill="#f0404f"/>
<line x1="1073.75" y1="81.6" x2="1073.75" y2="89.5" stroke="#1a9c85" stroke-width="0.9" stroke-opacity="0.85"/>
<rect x="1073.00" y="83.5" width="1.5" height="4.2" fill="#1a9c85"/>
<line x1="1076.29" y1="71.9" x2="1076.29" y2="84.9" stroke="#1a9c85" stroke-width="0.9" stroke-opacity="0.85"/>
<rect x="1075.54" y="76.0" width="1.5" height="7.5" fill="#1a9c85"/>
<line x1="1078.83" y1="74.3" x2="1078.83" y2="78.7" stroke="#f0404f" stroke-width="0.9" stroke-opacity="0.85"/>
<rect x="1078.08" y="76.0" width="1.5" height="1.0" fill="#f0404f"/>
<line x1="1081.38" y1="75.3" x2="1081.38" y2="89.4" stroke="#f0404f" stroke-width="0.9" stroke-opacity="0.85"/>
<rect x="1080.63" y="76.9" width="1.5" height="6.6" fill="#f0404f"/>
<line x1="1083.92" y1="73.4" x2="1083.92" y2="84.9" stroke="#1a9c85" stroke-width="0.9" stroke-opacity="0.85"/>
<rect x="1083.17" y="75.2" width="1.5" height="8.3" fill="#1a9c85"/>
<line x1="1086.46" y1="69.4" x2="1086.46" y2="118.6" stroke="#f0404f" stroke-width="0.9" stroke-opacity="0.85"/>
<rect x="1085.71" y="75.2" width="1.5" height="10.9" fill="#f0404f"/>
<line x1="1089.00" y1="80.2" x2="1089.00" y2="94.9" stroke="#f0404f" stroke-width="0.9" stroke-opacity="0.85"/>
<rect x="1088.25" y="85.2" width="1.5" height="8.4" fill="#f0404f"/>
<line x1="1091.54" y1="84.4" x2="1091.54" y2="93.6" stroke="#f0404f" stroke-width="0.9" stroke-opacity="0.85"/>
<rect x="1090.79" y="86.1" width="1.5" height="5.8" fill="#f0404f"/>
<line x1="1094.08" y1="85.0" x2="1094.08" y2="97.7" stroke="#f0404f" stroke-width="0.9" stroke-opacity="0.85"/>
<rect x="1093.33" y="86.9" width="1.5" height="9.2" fill="#f0404f"/>
<line x1="1096.62" y1="90.3" x2="1096.62" y2="102.7" stroke="#f0404f" stroke-width="0.9" stroke-opacity="0.85"/>
<rect x="1095.87" y="91.9" width="1.5" height="9.2" fill="#f0404f"/>
<line x1="1099.16" y1="96.2" x2="1099.16" y2="112.7" stroke="#f0404f" stroke-width="0.9" stroke-opacity="0.85"/>
<rect x="1098.41" y="97.7" width="1.5" height="13.4" fill="#f0404f"/>
<line x1="1101.70" y1="109.4" x2="1101.70" y2="124.4" stroke="#f0404f" stroke-width="0.9" stroke-opacity="0.85"/>
<rect x="1100.95" y="111.1" width="1.5" height="6.7" fill="#f0404f"/>
<line x1="1104.24" y1="111.6" x2="1104.24" y2="119.6" stroke="#1a9c85" stroke-width="0.9" stroke-opacity="0.85"/>
<rect x="1103.49" y="113.6" width="1.5" height="4.2" fill="#1a9c85"/>
<line x1="1106.78" y1="106.3" x2="1106.78" y2="121.1" stroke="#f0404f" stroke-width="0.9" stroke-opacity="0.85"/>
<rect x="1106.03" y="107.8" width="1.5" height="5.8" fill="#f0404f"/>
<line x1="1109.32" y1="111.6" x2="1109.32" y2="116.8" stroke="#f0404f" stroke-width="0.9" stroke-opacity="0.85"/>
<rect x="1108.57" y="113.6" width="1.5" height="1.7" fill="#f0404f"/>
<line x1="1111.86" y1="111.6" x2="1111.86" y2="119.4" stroke="#f0404f" stroke-width="0.9" stroke-opacity="0.85"/>
<rect x="1111.11" y="113.6" width="1.5" height="5.0" fill="#f0404f"/>
<polyline points="8.6,583.3 11.8,545.7 38.2,545.7 44.4,511.5 46.7,511.5 50.9,440.0 57.6,357.0 79.8,357.0" fill="none" stroke="#4da868" stroke-width="1" stroke-linejoin="round"/>
<polyline points="237.1,516.0 242.1,482.0 247.6,482.0 250.1,472.9 283.2,472.9" fill="none" stroke="#4da868" stroke-width="1" stroke-linejoin="round"/>
<polyline points="333.6,494.3 336.6,474.6 343.6,474.6" fill="none" stroke="#4da868" stroke-width="1" stroke-linejoin="round"/>
<polyline points="393.8,462.0 398.4,448.0 405.0,425.1 435.1,425.1 441.0,401.0 443.5,396.0 451.8,392.6 455.2,381.7 456.0,371.7 460.2,370.0 464.3,344.0 471.0,285.2 478.5,285.2 481.0,280.2 484.3,279.4 488.5,240.0 491.0,220.5 496.0,220.5 498.5,188.8 501.0,184.6 560.2,184.6 567.7,151.2 632.0,151.2" fill="none" stroke="#4da868" stroke-width="1" stroke-linejoin="round"/>
<polyline points="756.1,236.0 827.6,236.2 834.2,219.5 838.4,217.8 843.4,208.6 847.6,208.1 850.1,200.3 866.0,200.3 870.1,187.8 878.5,158.5 935.2,158.5" fill="none" stroke="#4da868" stroke-width="1" stroke-linejoin="round"/>
<polyline points="969.4,155.3 974.9,133.3 1004.4,133.3" fill="none" stroke="#4da868" stroke-width="1" stroke-linejoin="round"/>
<polyline points="1055.1,147.0 1057.6,137.8 1062.6,137.3 1065.1,127.8 1073.5,127.5 1078.5,115.3 1098.5,115.3" fill="none" stroke="#4da868" stroke-width="1" stroke-linejoin="round"/>
<polyline points="82.6,244.0 90.2,269.9 113.5,269.9 120.2,293.3 123.5,294.1 126.0,300.0 129.4,300.8 133.6,309.1 138.6,332.0 143.6,338.7 148.6,353.7 158.6,356.2 168.6,366.2 175.3,390.4 181.1,418.8 192.5,419.3 200.0,431.8 235.1,431.8" fill="none" stroke="#e8704a" stroke-width="1" stroke-linejoin="round"/>
<polyline points="285.5,399.2 287.7,405.0 303.5,406.0 308.5,418.4 311.9,421.0 316.9,431.8 321.9,433.5 331.1,433.5" fill="none" stroke="#e8704a" stroke-width="1" stroke-linejoin="round"/>
<polyline points="346.6,404.2 348.6,407.0 391.7,407.1" fill="none" stroke="#e8704a" stroke-width="1" stroke-linejoin="round"/>
<polyline points="634.3,107.2 636.2,114.0 639.0,120.2 642.0,126.2 644.8,134.3 646.2,141.0 647.6,146.5 659.3,153.6 671.8,153.6 680.1,156.9 681.8,164.5 686.8,167.8 691.0,174.5 700.2,176.1 702.7,181.1 706.8,183.6 711.9,187.0 713.5,191.2 717.7,197.0 755.0,197.0" fill="none" stroke="#e8704a" stroke-width="1" stroke-linejoin="round"/>
<polyline points="938.5,114.9 941.0,117.8 966.0,117.8" fill="none" stroke="#e8704a" stroke-width="1" stroke-linejoin="round"/>
<polyline points="1006.9,73.2 1009.4,83.2 1014.5,84.0 1017.0,90.7 1020.3,95.2 1053.1,95.2" fill="none" stroke="#e8704a" stroke-width="1" stroke-linejoin="round"/>
<polyline points="1101.0,66.4 1105.2,68.5 1108.5,69.4 1111.7,73.5" fill="none" stroke="#e8704a" stroke-width="1" stroke-linejoin="round"/>
<line x1="99.8" y1="302.1" x2="184.5" y2="302.1" stroke="#3aa043" stroke-width="1.9"/>
<line x1="99.8" y1="537.2" x2="184.5" y2="537.2" stroke="#3aa043" stroke-width="1.9"/>
<line x1="142.4" y1="302.1" x2="142.4" y2="537.2" stroke="#3aa043" stroke-width="1.9"/>
<polyline points="131.4,526.7 142.4,537.2 153.4,526.7" fill="none" stroke="#3aa043" stroke-width="1.9"/>
<line x1="618.2" y1="109.8" x2="646.9" y2="109.8" stroke="#3aa043" stroke-width="1.9"/>
<line x1="618.2" y1="241.8" x2="646.9" y2="241.8" stroke="#3aa043" stroke-width="1.9"/>
<line x1="632.6" y1="109.8" x2="632.6" y2="241.8" stroke="#3aa043" stroke-width="1.9"/>
<polyline points="621.8,231.3 632.6,241.8 643.4,231.3" fill="none" stroke="#3aa043" stroke-width="1.9"/>
<path d="M25.0 583.3 C26.2 580.6 29.9 572.5 32.0 567.3 C34.1 562.1 36.0 557.1 37.6 552.0 C39.2 546.9 40.1 543.4 41.7 536.7 C43.3 530.0 45.6 520.5 47.2 512.0 C48.8 503.5 50.0 494.5 51.4 485.5 C52.8 476.5 54.4 465.4 55.5 457.8 C56.6 450.2 57.2 446.5 58.1 440.0 C59.0 433.5 59.7 424.8 60.9 418.8 C62.1 412.8 63.3 408.5 65.1 403.8 C66.9 399.1 69.3 394.0 71.8 390.4 C74.3 386.8 77.0 383.4 80.1 382.0 C83.2 380.6 86.8 383.4 90.2 381.7 C93.6 380.0 96.9 374.5 100.2 372.0 C103.5 369.5 107.4 367.6 110.2 366.7 C113.0 365.8 113.6 366.1 116.9 366.7 C120.2 367.3 125.7 368.5 130.2 370.4 C134.6 372.3 138.9 375.0 143.6 377.9 C148.3 380.8 153.3 384.4 158.6 387.9 C163.9 391.4 171.7 395.9 175.3 398.8 C178.9 401.7 177.6 402.0 180.0 405.0 C182.4 408.0 186.4 412.9 190.0 416.8 C193.6 420.7 197.8 425.2 201.7 428.4 C205.6 431.6 209.8 434.1 213.4 436.0 C217.0 437.9 220.1 439.0 223.4 440.0 C226.7 441.0 230.1 442.2 233.4 442.0 C236.7 441.8 239.8 440.1 243.4 438.5 C247.0 436.9 251.2 433.4 255.1 432.6 C259.0 431.8 262.6 432.8 266.8 433.5 C271.0 434.2 275.8 435.6 280.2 436.8 C284.6 438.1 289.6 439.9 293.5 441.0 C297.4 442.1 300.1 442.2 303.5 443.5 C306.9 444.8 310.0 447.0 313.6 448.5 C317.2 450.0 321.9 452.4 325.2 452.7 C328.5 452.9 331.0 450.9 333.6 450.0 C336.2 449.1 338.6 446.8 341.1 447.0 C343.6 447.2 345.7 449.8 348.6 451.0 C351.5 452.2 355.3 454.0 358.6 454.3 C361.9 454.6 365.0 453.7 368.6 452.7 C372.2 451.7 375.9 450.3 380.0 448.5 C384.1 446.7 389.5 444.9 393.4 441.8 C397.3 438.8 400.1 433.7 403.4 430.2 C406.7 426.7 409.5 424.1 413.4 421.0 C417.3 417.9 422.6 415.0 426.8 411.8 C431.0 408.6 434.9 405.7 438.5 401.8 C442.1 397.9 445.7 392.7 448.5 388.4 C451.3 384.1 453.0 380.6 455.2 375.9 C457.4 371.2 459.9 365.3 461.8 360.0 C463.7 354.7 464.6 351.6 466.8 344.0 C469.0 336.4 472.3 323.3 475.1 314.5 C477.9 305.7 480.7 299.7 483.5 291.1 C486.3 282.5 489.3 271.2 491.8 262.7 C494.3 254.2 496.8 245.4 498.5 240.0 C500.2 234.6 499.9 234.3 501.8 230.5 C503.8 226.7 507.1 220.6 510.2 217.1 C513.3 213.6 516.9 211.8 520.2 209.6 C523.5 207.4 527.4 206.4 530.2 203.8 C533.0 201.2 534.7 197.4 536.9 193.8 C539.1 190.2 540.7 186.3 543.5 182.1 C546.3 177.9 550.2 173.1 553.6 168.7 C557.0 164.2 560.8 159.3 563.6 155.4 C566.4 151.5 567.5 148.3 570.3 145.4 C573.1 142.5 577.0 139.8 580.3 137.8 C583.6 135.9 586.4 134.3 590.3 133.7 C594.2 133.0 599.7 133.7 603.6 133.9 C607.5 134.1 610.5 135.3 613.6 135.1 C616.7 134.9 619.2 133.1 622.0 132.8 C624.8 132.5 628.0 133.1 630.3 133.5 C632.6 133.9 633.8 134.1 636.0 135.5 C638.2 136.9 639.9 139.0 643.4 141.9 C646.9 144.8 652.3 149.6 656.8 152.8 C661.2 156.0 665.6 158.3 670.1 161.1 C674.6 163.9 679.0 166.7 683.5 169.5 C688.0 172.3 692.3 175.1 696.8 177.8 C701.2 180.5 706.3 183.4 710.2 185.5 C714.1 187.6 715.8 188.7 720.2 190.3 C724.7 191.9 731.3 193.9 736.9 195.0 C742.5 196.1 748.0 196.3 753.6 196.8 C759.2 197.3 764.7 197.6 770.3 198.2 C775.9 198.8 781.5 199.7 787.0 200.5 C792.5 201.3 797.5 201.9 803.6 203.0 C809.7 204.1 818.4 206.6 823.4 207.0 C828.4 207.4 829.5 206.4 833.4 205.3 C837.3 204.2 842.3 202.1 846.8 200.3 C851.2 198.5 856.5 196.2 860.1 194.4 C863.7 192.6 865.7 191.9 868.5 189.4 C871.3 186.9 873.8 182.7 876.8 179.4 C879.8 176.1 883.2 172.2 886.8 169.4 C890.4 166.6 894.6 164.8 898.5 162.7 C902.4 160.6 906.0 158.5 910.2 156.9 C914.4 155.3 918.6 153.7 923.6 153.0 C928.6 152.3 934.8 153.0 940.3 152.9 C945.8 152.8 952.7 152.9 956.9 152.6 C961.1 152.3 962.8 152.3 965.3 150.9 C967.8 149.5 969.7 146.5 971.9 144.1 C974.1 141.7 976.1 138.7 978.6 136.6 C981.1 134.5 983.9 133.1 986.9 131.6 C989.9 130.1 993.8 128.2 996.9 127.4 C1000.0 126.6 1002.2 126.6 1005.3 126.8 C1008.4 127.0 1012.2 127.7 1015.3 128.3 C1018.3 128.9 1020.6 130.2 1023.6 130.3 C1026.6 130.4 1029.5 129.4 1033.4 128.8 C1037.3 128.2 1042.9 128.0 1046.8 127.0 C1050.7 126.0 1053.8 124.3 1056.8 122.8 C1059.8 121.3 1062.3 119.5 1065.1 117.8 C1067.9 116.1 1070.7 114.5 1073.5 112.8 C1076.3 111.1 1079.0 109.1 1081.8 107.8 C1084.6 106.5 1087.4 105.5 1090.2 104.9 C1093.0 104.3 1095.7 104.3 1098.5 104.4 C1101.3 104.5 1104.7 105.3 1106.9 105.7 C1109.1 106.1 1110.9 106.4 1111.7 106.6" fill="none" stroke="#f7e532" stroke-width="2.2" stroke-linejoin="round" stroke-linecap="round"/>
</g>
<line x1="8" y1="117.8" x2="1148" y2="117.8" stroke="#e6bcc2" stroke-opacity="0.6" stroke-width="1.1" stroke-dasharray="3,1"/>
<rect x="50.1" y="544.8" width="184.0" height="17.6" rx="2.5" fill="#b4c6e8"/>
<text x="57.0" y="556.8" font-size="9" fill="#1e2330" textLength="170.2" lengthAdjust="spacing">−224.17&#8201;B (−85.58%) −224,166,938,669</text>
<rect x="540.8" y="250.0" width="184.2" height="17.3" rx="2.5" fill="#b4c6e8"/>
<text x="547.5" y="261.8" font-size="9" fill="#1e2330" textLength="170.8" lengthAdjust="spacing">−840.44&#8201;B (−66.28%) −840,436,133,827</text>
<text x="46.2" y="597" font-size="9.4" fill="#2a2e39" font-weight="bold" textLength="22.6" lengthAdjust="spacing">2018</text>
<text x="123.5" y="597" font-size="9.3" text-anchor="middle" fill="#2a2e39">Jul</text>
<text x="180.8" y="597" font-size="9.4" fill="#2a2e39" font-weight="bold" textLength="22.6" lengthAdjust="spacing">2019</text>
<text x="255.6" y="597" font-size="9.3" text-anchor="middle" fill="#2a2e39">Jul</text>
<text x="312.9" y="597" font-size="9.4" fill="#2a2e39" font-weight="bold" textLength="22.6" lengthAdjust="spacing">2020</text>
<text x="390.3" y="597" font-size="9.3" text-anchor="middle" fill="#2a2e39">Jul</text>
<text x="445.1" y="597" font-size="9.4" fill="#2a2e39" font-weight="bold" textLength="22.6" lengthAdjust="spacing">2021</text>
<text x="522.4" y="597" font-size="9.3" text-anchor="middle" fill="#2a2e39">Jul</text>
<text x="577.2" y="597" font-size="9.4" fill="#2a2e39" font-weight="bold" textLength="22.6" lengthAdjust="spacing">2022</text>
<text x="654.5" y="597" font-size="9.3" text-anchor="middle" fill="#2a2e39">Jul</text>
<text x="709.3" y="597" font-size="9.4" fill="#2a2e39" font-weight="bold" textLength="22.6" lengthAdjust="spacing">2023</text>
<text x="786.7" y="597" font-size="9.3" text-anchor="middle" fill="#2a2e39">Jul</text>
<text x="841.4" y="597" font-size="9.4" fill="#2a2e39" font-weight="bold" textLength="22.6" lengthAdjust="spacing">2024</text>
<text x="918.8" y="597" font-size="9.3" text-anchor="middle" fill="#2a2e39">Jul</text>
<text x="976.1" y="597" font-size="9.4" fill="#2a2e39" font-weight="bold" textLength="22.6" lengthAdjust="spacing">2025</text>
<text x="1053.4" y="597" font-size="9.3" text-anchor="middle" fill="#2a2e39">Jul</text>
<text x="1108.2" y="597" font-size="9.4" fill="#2a2e39" font-weight="bold" textLength="22.6" lengthAdjust="spacing">2026</text>
<text x="1154.5" y="52.3" font-size="9" fill="#2a2e39" textLength="20.2" lengthAdjust="spacing">2.1&#8202;T</text>
<text x="1154.5" y="155.2" font-size="9" fill="#2a2e39" textLength="23.0" lengthAdjust="spacing">900&#8202;B</text>
<text x="1154.5" y="179.0" font-size="9" fill="#2a2e39" textLength="23.0" lengthAdjust="spacing">740&#8202;B</text>
<text x="1154.5" y="208.6" font-size="9" fill="#2a2e39" textLength="23.0" lengthAdjust="spacing">580&#8202;B</text>
<text x="1154.5" y="231.6" font-size="9" fill="#2a2e39" textLength="23.0" lengthAdjust="spacing">480&#8202;B</text>
<text x="1154.5" y="253.8" font-size="9" fill="#2a2e39" textLength="23.0" lengthAdjust="spacing">400&#8202;B</text>
<text x="1154.5" y="280.9" font-size="9" fill="#2a2e39" textLength="23.0" lengthAdjust="spacing">320&#8202;B</text>
<text x="1154.5" y="306.1" font-size="9" fill="#2a2e39" textLength="23.0" lengthAdjust="spacing">260&#8202;B</text>
<text x="1154.5" y="332.1" font-size="9" fill="#2a2e39" textLength="23.0" lengthAdjust="spacing">210&#8202;B</text>
<text x="1154.5" y="357.7" font-size="9" fill="#2a2e39" textLength="23.0" lengthAdjust="spacing">170&#8202;B</text>
<text x="1154.5" y="381.3" font-size="9" fill="#2a2e39" textLength="23.0" lengthAdjust="spacing">140&#8202;B</text>
<text x="1154.5" y="405.2" font-size="9" fill="#2a2e39" textLength="23.0" lengthAdjust="spacing">115&#8202;B</text>
<text x="1154.5" y="428.4" font-size="9" fill="#2a2e39" textLength="17.6" lengthAdjust="spacing">95&#8202;B</text>
<text x="1154.5" y="450.8" font-size="9" fill="#2a2e39" textLength="17.6" lengthAdjust="spacing">79&#8202;B</text>
<text x="1154.5" y="476.4" font-size="9" fill="#2a2e39" textLength="17.6" lengthAdjust="spacing">64&#8202;B</text>
<text x="1154.5" y="501.7" font-size="9" fill="#2a2e39" textLength="17.6" lengthAdjust="spacing">52&#8202;B</text>
<text x="1154.5" y="524.8" font-size="9" fill="#2a2e39" textLength="17.6" lengthAdjust="spacing">43&#8202;B</text>
<text x="1154.5" y="549.8" font-size="9" fill="#2a2e39" textLength="17.6" lengthAdjust="spacing">35&#8202;B</text>
<text x="1154.5" y="572.6" font-size="9" fill="#2a2e39" textLength="17.6" lengthAdjust="spacing">29&#8202;B</text>
<rect x="1150" y="22.8" width="39.7" height="17.2" rx="2" fill="#fff" stroke="#eceef2" stroke-width="1"/>
<text x="1166.2" y="35" font-size="9.3" text-anchor="middle" fill="#2a2e39">USD</text>
<rect x="1148.3" y="67.8" width="35.3" height="11.9" rx="1.5" fill="#f0622d"/>
<text x="1155" y="77.0" font-size="9.2" fill="#fff" fill-opacity="0.95" letter-spacing="0.2">1.71&#8202;T</text>
<rect x="1148.3" y="87.4" width="29.7" height="11.8" rx="1.5" fill="#ffeb3b"/>
<text x="1155" y="96.6" font-size="9.2" fill="#222" fill-opacity="1" letter-spacing="0.2">1.3&#8202;T</text>
<rect x="1148.3" y="99.2" width="35.3" height="12.5" rx="1.5" fill="#43a35a"/>
<text x="1155" y="108.8" font-size="9.2" fill="#fff" fill-opacity="0.95" letter-spacing="0.2">1.22&#8202;T</text>
<rect x="1148.3" y="111.7" width="38.7" height="22.1" rx="1.5" fill="#f23645"/>
<text x="1155" y="120.5" font-size="9.2" fill="#fff" fill-opacity="0.98" letter-spacing="0.2">1.19&#8202;T</text>
<text x="1155" y="131.6" font-size="9.2" fill="#fff" fill-opacity="0.8" letter-spacing="0.2">4d 18h</text>
<text x="7.9" y="15.1" font-size="9.9" fill="#1c1f28" stroke="#1c1f28" stroke-width="0.25" textLength="290.6" lengthAdjust="spacingAndGlyphs">kanguhalubale created with TradingView.com, Dec 17, 2025 06:40 UTC</text>
<text x="13.5" y="34.2" font-size="9.6" fill="#1c1f28" stroke="#1c1f28" stroke-width="0.25" textLength="251.0" lengthAdjust="spacingAndGlyphs">Crypto Total Market Cap Excluding BTC, $ · 1W · CRYPTOCAP</text>
<text x="270.0" y="34.2" font-size="9.6" fill="#1c1f28" stroke="#1c1f28" stroke-width="0.25" textLength="6.3" lengthAdjust="spacingAndGlyphs">O</text>
<text x="277.0" y="34.2" font-size="9.6" fill="#f23645" stroke="#f23645" stroke-width="0.15" textLength="23.0" lengthAdjust="spacingAndGlyphs">1.22&#8202;T</text>
<text x="305.5" y="34.2" font-size="9.6" fill="#1c1f28" stroke="#1c1f28" stroke-width="0.25" textLength="6.0" lengthAdjust="spacingAndGlyphs">H</text>
<text x="312.0" y="34.2" font-size="9.6" fill="#f23645" stroke="#f23645" stroke-width="0.15" textLength="23.0" lengthAdjust="spacingAndGlyphs">1.25&#8202;T</text>
<text x="340.0" y="34.2" font-size="9.6" fill="#1c1f28" stroke="#1c1f28" stroke-width="0.25" textLength="4.6" lengthAdjust="spacingAndGlyphs">L</text>
<text x="345.3" y="34.2" font-size="9.6" fill="#f23645" stroke="#f23645" stroke-width="0.15" textLength="21.5" lengthAdjust="spacingAndGlyphs">1.17&#8202;T</text>
<text x="371.5" y="34.2" font-size="9.6" fill="#1c1f28" stroke="#1c1f28" stroke-width="0.25" textLength="6.0" lengthAdjust="spacingAndGlyphs">C</text>
<text x="378.2" y="34.2" font-size="9.6" fill="#f23645" stroke="#f23645" stroke-width="0.15" textLength="22.0" lengthAdjust="spacingAndGlyphs">1.19&#8202;T</text>
<text x="406.0" y="34.2" font-size="9.6" fill="#f23645" stroke="#f23645" stroke-width="0.15" textLength="74.5" lengthAdjust="spacingAndGlyphs">−28.71&#8202;B (−2.35%)</text>
<text x="13.5" y="46.2" font-size="9.6" fill="#1c1f28" stroke="#1c1f28" stroke-width="0.25" textLength="80.5" lengthAdjust="spacingAndGlyphs">EMA 20/50/100/200</text>
<text x="100.3" y="46.2" font-size="9.6" fill="#f5e02d" stroke="#f5e02d" stroke-width="0.15" textLength="17.5" lengthAdjust="spacingAndGlyphs">1.3&#8202;T</text>
<text x="13.5" y="58.4" font-size="9.6" fill="#1c1f28" stroke="#1c1f28" stroke-width="0.25" textLength="74.5" lengthAdjust="spacingAndGlyphs">Supertrend (10, 3)</text>
<text x="92.8" y="58.2" font-size="8.6" fill="#1c1f28" stroke="#1c1f28" stroke-width="0">∅</text>
<text x="104.2" y="58.4" font-size="9.6" fill="#f0622d" stroke="#f0622d" stroke-width="0.15" textLength="22.0" lengthAdjust="spacingAndGlyphs">1.71&#8202;T</text>
<circle cx="1111.9" cy="555.8" r="7.15" fill="#fff" stroke="#a030b8" stroke-width="1.25"/>
<path d="M1113.9 551.7 L1109.2 556.6 L1111.5 556.6 L1109.9 560 L1114.6 555.1 L1112.3 555.1 Z" fill="#a030b8" stroke="#a030b8" stroke-width="0.4" stroke-linejoin="round"/>
<circle cx="1111.6" cy="573.8" r="7.4" fill="#fff" stroke="#f23645" stroke-width="1.4"/>
<clipPath id="flag"><circle cx="1111.6" cy="573.8" r="5.5"/></clipPath>
<g clip-path="url(#flag)"><rect x="1105" y="567" width="14" height="14" fill="#fff"/>
<rect x="1105" y="568.9" width="14" height="1.9" fill="#f23645"/>
<rect x="1105" y="572.6" width="14" height="1.9" fill="#f23645"/>
<rect x="1105" y="576.9" width="14" height="1.9" fill="#f23645"/>
<rect x="1105" y="567.5" width="7.4" height="7.3" fill="#4a8af4"/></g>
<g fill="#0d0d0f"><path d="M8.8 619.9 H17.1 V630.6 H12.9 V624 H8.8 Z"/><circle cx="20.9" cy="622" r="1.85"/><path d="M24.75 619.9 H30 L26.3 630.6 H21.2 Z"/></g>
<text x="35.5" y="630.3" font-size="15.1" fill="#0d0d0f" stroke="#0d0d0f" stroke-width="0.85" stroke-linejoin="round" textLength="86.8" lengthAdjust="spacingAndGlyphs">TradingView</text>
</svg></body></html>
